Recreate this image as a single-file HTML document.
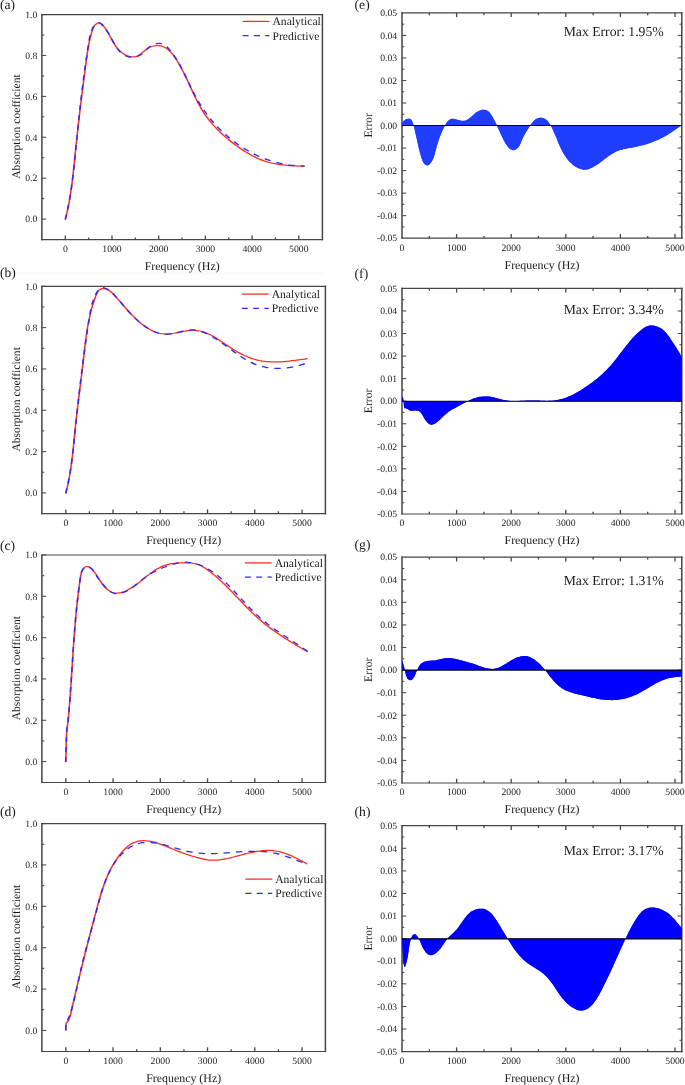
<!DOCTYPE html>
<html><head><meta charset="utf-8"><title>Figure</title>
<style>
html,body{margin:0;padding:0;background:#fff;}
body{width:685px;height:1085px;overflow:hidden;}
svg{display:block;font-family:"Liberation Serif",serif;fill:#1a1a1a;text-rendering:geometricPrecision;will-change:transform;}
</style></head><body>
<svg width="685" height="1085" viewBox="0 0 685 1085">

<g><line x1="0" y1="273.2" x2="323" y2="273.2" stroke="#f3f3f3" stroke-width="1"/>
<g transform="scale(1.25 1)">
<path d="M52.24 219.50C52.34 219.01 52.65 217.54 52.85 216.56C53.04 215.58 53.23 214.60 53.42 213.62C53.60 212.63 53.78 211.65 53.95 210.67C54.13 209.68 54.29 208.69 54.46 207.71C54.62 206.72 54.78 205.73 54.93 204.75C55.08 203.76 55.23 202.77 55.37 201.78C55.52 200.79 55.66 199.80 55.79 198.81C55.93 197.81 56.06 196.82 56.18 195.83C56.31 194.84 56.44 193.84 56.56 192.85C56.68 191.85 56.79 190.86 56.90 189.86C57.02 188.87 57.13 187.87 57.24 186.87C57.34 185.88 57.45 184.88 57.55 183.88C57.65 182.89 57.75 181.89 57.85 180.89C57.94 179.89 58.04 178.89 58.13 177.89C58.22 176.89 58.31 175.89 58.40 174.89C58.49 173.89 58.58 172.89 58.67 171.89C58.75 170.89 58.84 169.89 58.92 168.88C59.01 167.88 59.09 166.88 59.17 165.88C59.26 164.88 59.34 163.88 59.42 162.87C59.50 161.87 59.58 160.87 59.66 159.87C59.74 158.86 59.83 157.86 59.91 156.86C59.99 155.85 60.07 154.85 60.15 153.85C60.23 152.85 60.32 151.84 60.40 150.84C60.48 149.84 60.57 148.84 60.65 147.83C60.73 146.83 60.82 145.83 60.90 144.82C60.99 143.82 61.07 142.82 61.16 141.82C61.24 140.81 61.33 139.81 61.42 138.81C61.50 137.80 61.59 136.80 61.68 135.80C61.76 134.80 61.85 133.79 61.94 132.79C62.03 131.79 62.12 130.79 62.21 129.78C62.29 128.78 62.38 127.78 62.47 126.78C62.56 125.77 62.65 124.77 62.74 123.77C62.84 122.77 62.93 121.77 63.02 120.76C63.11 119.76 63.20 118.76 63.29 117.76C63.39 116.76 63.48 115.76 63.57 114.75C63.66 113.75 63.76 112.75 63.85 111.75C63.95 110.75 64.04 109.75 64.14 108.75C64.23 107.74 64.33 106.74 64.42 105.74C64.52 104.74 64.61 103.74 64.71 102.74C64.81 101.74 64.90 100.74 65.00 99.74C65.10 98.74 65.20 97.74 65.29 96.74C65.39 95.74 65.49 94.74 65.59 93.74C65.69 92.74 65.79 91.74 65.89 90.74C65.99 89.74 66.09 88.74 66.19 87.75C66.29 86.75 66.39 85.75 66.49 84.75C66.60 83.75 66.70 82.75 66.80 81.76C66.90 80.76 67.01 79.76 67.11 78.76C67.21 77.77 67.32 76.77 67.42 75.77C67.53 74.77 67.63 73.78 67.74 72.78C67.84 71.78 67.95 70.79 68.05 69.79C68.16 68.80 68.27 67.80 68.37 66.81C68.48 65.81 68.59 64.82 68.69 63.82C68.80 62.83 68.91 61.83 69.02 60.84C69.13 59.84 69.24 58.85 69.35 57.85C69.46 56.86 69.57 55.87 69.68 54.87C69.79 53.88 69.91 52.89 70.03 51.90C70.15 50.90 70.27 49.91 70.40 48.92C70.53 47.92 70.67 46.93 70.81 45.94C70.95 44.95 71.10 43.95 71.26 42.96C71.42 41.97 71.59 40.97 71.76 39.98C71.94 38.99 72.13 38.00 72.33 37.00C72.53 36.01 72.74 35.01 72.96 34.02C73.19 33.03 73.42 32.02 73.68 31.04C73.95 30.06 74.20 29.05 74.55 28.13C74.90 27.21 75.27 26.30 75.76 25.53C76.26 24.76 76.86 23.92 77.50 23.51C78.14 23.09 78.92 22.87 79.60 23.05C80.29 23.22 81.00 23.91 81.61 24.54C82.23 25.17 82.77 26.05 83.29 26.85C83.82 27.65 84.30 28.49 84.76 29.33C85.23 30.18 85.66 31.04 86.08 31.92C86.50 32.79 86.89 33.68 87.29 34.57C87.68 35.46 88.06 36.36 88.44 37.25C88.82 38.14 89.19 39.04 89.58 39.92C89.96 40.81 90.34 41.69 90.75 42.55C91.15 43.42 91.56 44.27 92.00 45.10C92.44 45.93 92.89 46.75 93.38 47.54C93.87 48.33 94.39 49.09 94.94 49.82C95.50 50.55 96.09 51.26 96.72 51.92C97.35 52.58 98.04 53.21 98.74 53.78C99.44 54.34 100.18 54.86 100.93 55.30C101.68 55.74 102.46 56.12 103.23 56.39C104.00 56.66 104.78 56.87 105.55 56.95C106.32 57.03 107.09 57.02 107.82 56.87C108.56 56.73 109.28 56.46 109.98 56.07C110.67 55.69 111.33 55.14 111.99 54.57C112.65 54.00 113.28 53.30 113.93 52.63C114.58 51.96 115.23 51.22 115.90 50.54C116.57 49.86 117.25 49.16 117.97 48.58C118.69 47.99 119.45 47.45 120.23 47.02C121.01 46.60 121.84 46.26 122.65 46.02C123.47 45.78 124.31 45.63 125.12 45.57C125.92 45.50 126.72 45.54 127.48 45.65C128.24 45.77 128.97 45.97 129.67 46.25C130.38 46.52 131.05 46.88 131.71 47.30C132.36 47.72 132.99 48.21 133.60 48.75C134.21 49.29 134.80 49.90 135.36 50.54C135.93 51.19 136.48 51.89 137.01 52.62C137.54 53.36 138.05 54.14 138.55 54.94C139.04 55.74 139.52 56.58 139.99 57.43C140.46 58.28 140.91 59.16 141.35 60.04C141.80 60.92 142.23 61.82 142.65 62.72C143.07 63.61 143.48 64.52 143.89 65.42C144.29 66.33 144.69 67.24 145.08 68.15C145.47 69.06 145.85 69.97 146.22 70.89C146.60 71.80 146.97 72.72 147.33 73.64C147.69 74.56 148.05 75.48 148.40 76.40C148.76 77.33 149.11 78.25 149.45 79.17C149.80 80.09 150.14 81.02 150.49 81.94C150.83 82.86 151.17 83.79 151.50 84.71C151.84 85.63 152.18 86.55 152.52 87.47C152.85 88.39 153.19 89.30 153.53 90.22C153.87 91.13 154.21 92.05 154.55 92.96C154.89 93.87 155.23 94.77 155.58 95.68C155.93 96.58 156.27 97.48 156.63 98.38C156.98 99.28 157.34 100.17 157.70 101.06C158.07 101.94 158.44 102.83 158.81 103.71C159.19 104.58 159.57 105.46 159.95 106.32C160.34 107.19 160.74 108.05 161.14 108.91C161.55 109.76 161.96 110.61 162.38 111.45C162.80 112.29 163.23 113.13 163.68 113.95C164.12 114.78 164.57 115.60 165.03 116.41C165.50 117.22 165.97 118.02 166.46 118.82C166.94 119.61 167.44 120.40 167.94 121.18C168.45 121.95 168.96 122.72 169.49 123.49C170.01 124.25 170.54 125.01 171.09 125.75C171.63 126.50 172.18 127.24 172.74 127.97C173.29 128.70 173.86 129.42 174.43 130.14C175.01 130.86 175.59 131.56 176.18 132.26C176.77 132.96 177.36 133.66 177.96 134.34C178.56 135.02 179.17 135.70 179.78 136.37C180.40 137.04 181.02 137.70 181.64 138.36C182.27 139.01 182.90 139.65 183.53 140.29C184.16 140.93 184.80 141.56 185.45 142.19C186.09 142.81 186.74 143.42 187.39 144.03C188.04 144.64 188.69 145.24 189.35 145.83C190.00 146.43 190.66 147.01 191.33 147.59C191.99 148.17 192.65 148.74 193.32 149.30C193.99 149.86 194.66 150.41 195.34 150.95C196.01 151.50 196.69 152.03 197.37 152.55C198.05 153.07 198.74 153.58 199.43 154.07C200.12 154.57 200.82 155.05 201.52 155.52C202.22 155.99 202.92 156.45 203.63 156.89C204.35 157.33 205.06 157.76 205.78 158.17C206.51 158.58 207.24 158.97 207.97 159.35C208.71 159.72 209.45 160.08 210.19 160.42C210.94 160.77 211.70 161.09 212.46 161.39C213.22 161.70 213.99 161.98 214.77 162.24C215.54 162.51 216.33 162.75 217.12 162.98C217.90 163.21 218.70 163.42 219.50 163.62C220.30 163.81 221.10 163.99 221.91 164.15C222.71 164.32 223.52 164.47 224.33 164.61C225.15 164.75 225.96 164.87 226.78 164.98C227.59 165.10 228.41 165.20 229.23 165.29C230.04 165.38 230.86 165.46 231.67 165.54C232.49 165.61 233.30 165.68 234.11 165.74C234.93 165.79 235.74 165.84 236.54 165.89C237.35 165.94 238.15 165.98 238.95 166.01C239.75 166.05 240.54 166.08 241.33 166.11C242.12 166.15 243.29 166.19 243.68 166.20" fill="none" stroke="#ff2d2d" stroke-width="1.25" stroke-linejoin="round"/>
<path d="M52.24 219.50C52.34 219.01 52.63 217.53 52.82 216.55C53.00 215.57 53.18 214.58 53.36 213.59C53.54 212.61 53.71 211.62 53.88 210.63C54.05 209.64 54.22 208.65 54.38 207.66C54.54 206.67 54.70 205.68 54.85 204.69C55.01 203.70 55.15 202.70 55.30 201.71C55.45 200.71 55.59 199.72 55.73 198.72C55.87 197.73 56.00 196.73 56.13 195.73C56.27 194.74 56.40 193.74 56.52 192.74C56.65 191.74 56.77 190.74 56.89 189.74C57.01 188.74 57.13 187.74 57.24 186.74C57.36 185.74 57.47 184.73 57.58 183.73C57.69 182.73 57.79 181.73 57.90 180.72C58.00 179.72 58.11 178.71 58.21 177.71C58.31 176.70 58.40 175.70 58.50 174.69C58.60 173.69 58.69 172.68 58.78 171.68C58.88 170.67 58.97 169.66 59.06 168.66C59.15 167.65 59.24 166.64 59.32 165.64C59.41 164.63 59.49 163.62 59.58 162.61C59.66 161.61 59.75 160.60 59.83 159.59C59.91 158.58 59.99 157.57 60.07 156.57C60.15 155.56 60.23 154.55 60.31 153.54C60.39 152.53 60.47 151.53 60.55 150.52C60.63 149.51 60.71 148.50 60.79 147.49C60.87 146.49 60.94 145.48 61.02 144.47C61.10 143.46 61.18 142.45 61.26 141.45C61.34 140.44 61.41 139.43 61.49 138.43C61.57 137.42 61.65 136.41 61.73 135.41C61.81 134.40 61.89 133.39 61.97 132.39C62.05 131.38 62.14 130.38 62.22 129.37C62.30 128.36 62.38 127.36 62.47 126.35C62.55 125.35 62.63 124.34 62.72 123.34C62.80 122.33 62.88 121.33 62.97 120.33C63.06 119.32 63.14 118.32 63.23 117.31C63.31 116.31 63.40 115.30 63.49 114.30C63.58 113.30 63.66 112.29 63.75 111.29C63.84 110.28 63.93 109.28 64.02 108.28C64.11 107.27 64.20 106.27 64.29 105.27C64.38 104.26 64.47 103.26 64.57 102.26C64.66 101.25 64.75 100.25 64.85 99.25C64.94 98.24 65.03 97.24 65.13 96.24C65.23 95.23 65.32 94.23 65.42 93.23C65.51 92.23 65.61 91.22 65.71 90.22C65.81 89.22 65.91 88.21 66.01 87.21C66.11 86.21 66.21 85.20 66.31 84.20C66.41 83.20 66.51 82.19 66.62 81.19C66.72 80.19 66.82 79.18 66.93 78.18C67.03 77.18 67.14 76.17 67.24 75.17C67.35 74.16 67.46 73.16 67.57 72.16C67.67 71.15 67.78 70.15 67.89 69.14C68.00 68.14 68.11 67.14 68.22 66.13C68.34 65.13 68.45 64.12 68.56 63.12C68.68 62.11 68.79 61.11 68.91 60.10C69.02 59.10 69.14 58.09 69.26 57.08C69.37 56.08 69.49 55.07 69.61 54.07C69.73 53.06 69.85 52.05 69.97 51.05C70.09 50.04 70.22 49.04 70.34 48.03C70.46 47.02 70.59 46.01 70.71 45.01C70.84 44.00 70.96 42.99 71.09 41.98C71.22 40.97 71.34 39.96 71.48 38.96C71.63 37.96 71.76 36.95 71.94 35.97C72.11 34.98 72.30 34.00 72.53 33.04C72.76 32.08 73.02 31.14 73.33 30.22C73.65 29.31 74.00 28.41 74.42 27.55C74.85 26.69 75.32 25.83 75.87 25.07C76.42 24.31 77.08 23.37 77.73 22.98C78.38 22.60 79.10 22.48 79.76 22.77C80.43 23.07 81.11 23.99 81.72 24.75C82.33 25.51 82.91 26.51 83.44 27.33C83.97 28.16 84.43 28.93 84.88 29.71C85.33 30.49 85.74 31.23 86.14 32.01C86.55 32.79 86.92 33.56 87.31 34.39C87.70 35.22 88.09 36.10 88.48 36.99C88.88 37.88 89.27 38.81 89.68 39.74C90.09 40.67 90.50 41.62 90.93 42.56C91.36 43.50 91.80 44.45 92.26 45.37C92.72 46.28 93.19 47.20 93.68 48.06C94.17 48.93 94.68 49.78 95.22 50.56C95.76 51.35 96.31 52.10 96.90 52.78C97.49 53.45 98.10 54.08 98.74 54.61C99.39 55.15 100.06 55.62 100.77 55.99C101.47 56.35 102.22 56.63 102.98 56.82C103.73 57.01 104.52 57.11 105.31 57.13C106.09 57.14 106.89 57.07 107.67 56.92C108.46 56.76 109.24 56.53 110.00 56.21C110.75 55.89 111.50 55.50 112.19 55.02C112.89 54.55 113.56 53.99 114.18 53.38C114.81 52.76 115.36 52.04 115.94 51.33C116.51 50.63 117.04 49.84 117.62 49.12C118.21 48.40 118.78 47.64 119.44 46.99C120.10 46.34 120.82 45.71 121.59 45.20C122.35 44.69 123.19 44.24 124.02 43.92C124.84 43.61 125.71 43.38 126.53 43.31C127.34 43.24 128.16 43.29 128.91 43.49C129.66 43.69 130.37 44.05 131.04 44.50C131.71 44.94 132.33 45.53 132.93 46.16C133.54 46.79 134.10 47.52 134.65 48.26C135.20 49.00 135.72 49.81 136.24 50.60C136.75 51.40 137.25 52.21 137.74 53.02C138.23 53.84 138.70 54.66 139.16 55.50C139.63 56.33 140.08 57.17 140.52 58.02C140.96 58.86 141.39 59.72 141.81 60.58C142.23 61.44 142.64 62.31 143.04 63.19C143.45 64.06 143.84 64.94 144.23 65.83C144.62 66.71 145.00 67.60 145.37 68.50C145.75 69.39 146.12 70.29 146.49 71.19C146.85 72.09 147.21 73.00 147.57 73.90C147.93 74.81 148.28 75.72 148.63 76.63C148.98 77.54 149.33 78.45 149.68 79.37C150.03 80.28 150.38 81.20 150.72 82.11C151.07 83.03 151.42 83.94 151.77 84.85C152.12 85.77 152.47 86.68 152.82 87.59C153.18 88.50 153.53 89.41 153.89 90.32C154.25 91.23 154.61 92.13 154.98 93.04C155.35 93.94 155.72 94.84 156.10 95.73C156.48 96.62 156.87 97.52 157.26 98.40C157.65 99.29 158.05 100.17 158.46 101.04C158.87 101.92 159.28 102.79 159.71 103.65C160.13 104.52 160.56 105.37 161.00 106.23C161.44 107.08 161.88 107.93 162.34 108.77C162.79 109.61 163.25 110.44 163.72 111.27C164.19 112.10 164.66 112.92 165.15 113.74C165.63 114.55 166.12 115.36 166.62 116.17C167.11 116.97 167.62 117.76 168.13 118.55C168.64 119.34 169.16 120.12 169.68 120.90C170.21 121.67 170.74 122.44 171.28 123.20C171.81 123.96 172.36 124.71 172.91 125.45C173.46 126.20 174.02 126.94 174.58 127.67C175.15 128.39 175.72 129.12 176.29 129.83C176.87 130.54 177.45 131.25 178.04 131.94C178.63 132.64 179.22 133.33 179.82 134.01C180.43 134.69 181.03 135.36 181.64 136.02C182.26 136.68 182.88 137.34 183.50 137.98C184.12 138.63 184.75 139.26 185.39 139.89C186.02 140.51 186.66 141.13 187.31 141.74C187.95 142.35 188.61 142.94 189.26 143.53C189.92 144.12 190.58 144.70 191.25 145.27C191.91 145.84 192.59 146.40 193.26 146.94C193.94 147.49 194.62 148.03 195.31 148.56C195.99 149.09 196.69 149.61 197.38 150.11C198.08 150.62 198.78 151.12 199.48 151.60C200.19 152.09 200.90 152.56 201.61 153.03C202.33 153.49 203.05 153.94 203.77 154.38C204.49 154.83 205.22 155.26 205.95 155.67C206.68 156.09 207.42 156.50 208.16 156.90C208.90 157.29 209.64 157.67 210.39 158.05C211.14 158.42 211.89 158.78 212.64 159.13C213.40 159.47 214.16 159.81 214.92 160.13C215.68 160.45 216.45 160.76 217.22 161.06C217.99 161.36 218.76 161.65 219.54 161.92C220.31 162.19 221.09 162.45 221.88 162.70C222.66 162.94 223.44 163.18 224.23 163.40C225.02 163.61 225.81 163.82 226.61 164.01C227.40 164.21 228.20 164.39 229.00 164.55C229.80 164.72 230.61 164.87 231.41 165.01C232.22 165.15 233.03 165.27 233.84 165.38C234.65 165.49 235.46 165.59 236.28 165.67C237.09 165.75 237.91 165.81 238.73 165.87C239.55 165.92 240.38 165.96 241.20 165.98C242.02 166.00 243.27 166.00 243.68 166.00" fill="none" stroke="#2b2bff" stroke-width="1.25" stroke-dasharray="5.2 4.8" stroke-linejoin="round"/>
</g>
<path d="M41.90 14.00V240.30M322.40 14.00V240.30" fill="none" stroke="#464646" stroke-width="1.5"/>
<path d="M41.15 14.60H323.15M41.15 239.70H323.15" fill="none" stroke="#464646" stroke-width="1.2"/>
<line x1="65.30" y1="239.70" x2="65.30" y2="235.50" stroke="#464646" stroke-width="1.3"/>
<text x="65.30" y="252.00" font-size="9.7" text-anchor="middle" >0</text>
<line x1="88.65" y1="239.70" x2="88.65" y2="237.40" stroke="#464646" stroke-width="1.3"/>
<line x1="112.00" y1="239.70" x2="112.00" y2="235.50" stroke="#464646" stroke-width="1.3"/>
<text x="112.00" y="252.00" font-size="9.7" text-anchor="middle" >1000</text>
<line x1="135.35" y1="239.70" x2="135.35" y2="237.40" stroke="#464646" stroke-width="1.3"/>
<line x1="158.70" y1="239.70" x2="158.70" y2="235.50" stroke="#464646" stroke-width="1.3"/>
<text x="158.70" y="252.00" font-size="9.7" text-anchor="middle" >2000</text>
<line x1="182.05" y1="239.70" x2="182.05" y2="237.40" stroke="#464646" stroke-width="1.3"/>
<line x1="205.40" y1="239.70" x2="205.40" y2="235.50" stroke="#464646" stroke-width="1.3"/>
<text x="205.40" y="252.00" font-size="9.7" text-anchor="middle" >3000</text>
<line x1="228.75" y1="239.70" x2="228.75" y2="237.40" stroke="#464646" stroke-width="1.3"/>
<line x1="252.10" y1="239.70" x2="252.10" y2="235.50" stroke="#464646" stroke-width="1.3"/>
<text x="252.10" y="252.00" font-size="9.7" text-anchor="middle" >4000</text>
<line x1="275.45" y1="239.70" x2="275.45" y2="237.40" stroke="#464646" stroke-width="1.3"/>
<line x1="298.80" y1="239.70" x2="298.80" y2="235.50" stroke="#464646" stroke-width="1.3"/>
<text x="298.80" y="252.00" font-size="9.7" text-anchor="middle" >5000</text>
<line x1="41.90" y1="219.10" x2="46.10" y2="219.10" stroke="#464646" stroke-width="1.05"/>
<text x="37.30" y="222.35" font-size="9.7" text-anchor="end" >0.0</text>
<line x1="41.90" y1="198.65" x2="44.20" y2="198.65" stroke="#464646" stroke-width="1.05"/>
<line x1="41.90" y1="178.20" x2="46.10" y2="178.20" stroke="#464646" stroke-width="1.05"/>
<text x="37.30" y="181.45" font-size="9.7" text-anchor="end" >0.2</text>
<line x1="41.90" y1="157.75" x2="44.20" y2="157.75" stroke="#464646" stroke-width="1.05"/>
<line x1="41.90" y1="137.30" x2="46.10" y2="137.30" stroke="#464646" stroke-width="1.05"/>
<text x="37.30" y="140.55" font-size="9.7" text-anchor="end" >0.4</text>
<line x1="41.90" y1="116.85" x2="44.20" y2="116.85" stroke="#464646" stroke-width="1.05"/>
<line x1="41.90" y1="96.40" x2="46.10" y2="96.40" stroke="#464646" stroke-width="1.05"/>
<text x="37.30" y="99.65" font-size="9.7" text-anchor="end" >0.6</text>
<line x1="41.90" y1="75.95" x2="44.20" y2="75.95" stroke="#464646" stroke-width="1.05"/>
<line x1="41.90" y1="55.50" x2="46.10" y2="55.50" stroke="#464646" stroke-width="1.05"/>
<text x="37.30" y="58.75" font-size="9.7" text-anchor="end" >0.8</text>
<line x1="41.90" y1="35.05" x2="44.20" y2="35.05" stroke="#464646" stroke-width="1.05"/>
<line x1="41.90" y1="14.60" x2="46.10" y2="14.60" stroke="#464646" stroke-width="1.05"/>
<text x="37.30" y="17.85" font-size="9.7" text-anchor="end" >1.0</text>
<text x="182.15" y="270.00" font-size="11.9" text-anchor="middle" >Frequency (Hz)</text>
<text transform="translate(20.40 126.55) rotate(-90)" font-size="11.6" text-anchor="middle">Absorption coefficient</text>
<text x="0.00" y="8.90" font-size="13.6" text-anchor="start" >(a)</text>
<line x1="242.60" y1="21.40" x2="269.40" y2="21.40" stroke="#ff2d2d" stroke-width="1.3"/>
<line x1="242.60" y1="35.70" x2="269.40" y2="35.70" stroke="#2b2bff" stroke-width="1.3" stroke-dasharray="6 5.3"/>
<text x="272.50" y="25.30" font-size="11.6" text-anchor="start" >Analytical</text>
<text x="272.50" y="39.60" font-size="11.6" text-anchor="start" >Predictive</text>
<g transform="scale(1.25 1)">
<path d="M52.56 493.40C52.66 492.91 52.98 491.43 53.18 490.44C53.39 489.46 53.58 488.47 53.77 487.48C53.95 486.49 54.13 485.50 54.31 484.51C54.48 483.52 54.65 482.53 54.81 481.53C54.97 480.54 55.13 479.54 55.28 478.55C55.43 477.55 55.57 476.56 55.71 475.56C55.85 474.56 55.99 473.57 56.11 472.57C56.24 471.57 56.37 470.57 56.49 469.57C56.61 468.57 56.73 467.57 56.84 466.57C56.95 465.56 57.06 464.56 57.17 463.56C57.27 462.55 57.38 461.55 57.48 460.55C57.57 459.54 57.67 458.54 57.77 457.53C57.86 456.53 57.95 455.52 58.04 454.52C58.13 453.51 58.22 452.50 58.30 451.50C58.39 450.49 58.47 449.48 58.56 448.48C58.64 447.47 58.72 446.46 58.80 445.45C58.88 444.45 58.96 443.44 59.04 442.43C59.12 441.42 59.20 440.41 59.28 439.40C59.36 438.40 59.44 437.39 59.52 436.38C59.60 435.37 59.68 434.36 59.76 433.35C59.85 432.35 59.93 431.34 60.01 430.33C60.10 429.32 60.18 428.31 60.27 427.31C60.36 426.30 60.44 425.29 60.53 424.28C60.62 423.27 60.71 422.27 60.80 421.26C60.89 420.25 60.98 419.24 61.07 418.24C61.16 417.23 61.26 416.22 61.35 415.21C61.44 414.21 61.54 413.20 61.63 412.19C61.73 411.19 61.82 410.18 61.92 409.17C62.01 408.16 62.11 407.16 62.21 406.15C62.30 405.14 62.40 404.14 62.50 403.13C62.60 402.12 62.70 401.12 62.79 400.11C62.89 399.10 62.99 398.10 63.09 397.09C63.19 396.09 63.29 395.08 63.39 394.07C63.49 393.07 63.59 392.06 63.69 391.05C63.79 390.05 63.88 389.04 63.98 388.04C64.08 387.03 64.18 386.02 64.28 385.02C64.38 384.01 64.48 383.01 64.58 382.00C64.68 380.99 64.78 379.99 64.88 378.98C64.97 377.98 65.07 376.97 65.17 375.96C65.27 374.96 65.37 373.95 65.46 372.95C65.56 371.94 65.66 370.94 65.75 369.93C65.85 368.92 65.94 367.92 66.04 366.91C66.13 365.91 66.23 364.90 66.32 363.90C66.42 362.89 66.51 361.88 66.60 360.88C66.69 359.87 66.78 358.87 66.87 357.86C66.97 356.86 67.06 355.85 67.15 354.84C67.24 353.84 67.33 352.83 67.42 351.83C67.51 350.82 67.60 349.82 67.69 348.81C67.79 347.81 67.88 346.81 67.98 345.80C68.07 344.80 68.17 343.79 68.27 342.79C68.37 341.79 68.47 340.78 68.58 339.78C68.68 338.78 68.79 337.77 68.90 336.77C69.01 335.77 69.12 334.77 69.24 333.77C69.36 332.77 69.48 331.77 69.61 330.77C69.73 329.77 69.86 328.77 70.00 327.77C70.13 326.77 70.27 325.77 70.42 324.78C70.56 323.78 70.71 322.78 70.87 321.79C71.03 320.79 71.19 319.80 71.36 318.80C71.53 317.81 71.70 316.82 71.88 315.83C72.07 314.83 72.25 313.84 72.45 312.85C72.65 311.86 72.85 310.87 73.06 309.88C73.28 308.90 73.50 307.91 73.73 306.92C73.96 305.94 74.19 304.95 74.44 303.97C74.69 302.98 74.94 302.00 75.21 301.02C75.47 300.04 75.75 299.06 76.03 298.08C76.32 297.10 76.60 296.10 76.92 295.15C77.24 294.21 77.56 293.25 77.95 292.42C78.34 291.60 78.75 290.81 79.25 290.21C79.75 289.61 80.30 289.10 80.95 288.82C81.60 288.55 82.39 288.48 83.17 288.58C83.95 288.68 84.85 289.02 85.63 289.42C86.41 289.82 87.15 290.40 87.84 291.00C88.52 291.60 89.13 292.32 89.74 293.03C90.34 293.74 90.91 294.52 91.48 295.27C92.05 296.02 92.62 296.79 93.17 297.55C93.73 298.31 94.28 299.08 94.83 299.85C95.38 300.62 95.92 301.39 96.46 302.16C97.00 302.93 97.54 303.70 98.07 304.47C98.61 305.23 99.14 306.00 99.68 306.77C100.21 307.53 100.74 308.30 101.28 309.05C101.82 309.81 102.35 310.57 102.89 311.32C103.44 312.06 103.98 312.81 104.53 313.55C105.08 314.28 105.63 315.01 106.19 315.73C106.75 316.45 107.31 317.17 107.88 317.87C108.46 318.57 109.04 319.27 109.63 319.95C110.22 320.63 110.81 321.31 111.42 321.96C112.03 322.62 112.65 323.27 113.29 323.90C113.92 324.53 114.56 325.15 115.22 325.75C115.88 326.35 116.55 326.94 117.23 327.50C117.91 328.06 118.61 328.60 119.31 329.10C120.01 329.61 120.73 330.09 121.45 330.54C122.18 330.98 122.91 331.40 123.66 331.77C124.40 332.14 125.16 332.48 125.92 332.77C126.68 333.05 127.45 333.30 128.23 333.50C129.01 333.69 129.80 333.84 130.59 333.93C131.39 334.02 132.19 334.05 133.00 334.05C133.81 334.04 134.62 333.98 135.44 333.89C136.26 333.80 137.08 333.67 137.91 333.52C138.73 333.37 139.56 333.19 140.39 333.01C141.22 332.82 142.05 332.61 142.88 332.41C143.71 332.20 144.54 331.98 145.36 331.78C146.19 331.58 147.02 331.38 147.84 331.20C148.66 331.02 149.48 330.85 150.30 330.72C151.11 330.59 151.92 330.47 152.72 330.40C153.52 330.34 154.32 330.30 155.11 330.32C155.90 330.34 156.68 330.40 157.45 330.51C158.22 330.62 158.99 330.78 159.74 330.98C160.50 331.17 161.25 331.42 162.00 331.69C162.74 331.97 163.48 332.28 164.22 332.63C164.95 332.97 165.68 333.35 166.40 333.76C167.13 334.16 167.84 334.60 168.56 335.05C169.27 335.51 169.99 336.00 170.69 336.50C171.40 337.00 172.11 337.52 172.81 338.06C173.51 338.59 174.21 339.15 174.91 339.71C175.61 340.27 176.31 340.84 177.00 341.42C177.70 342.00 178.39 342.59 179.09 343.18C179.78 343.76 180.47 344.36 181.17 344.94C181.87 345.53 182.56 346.12 183.26 346.70C183.95 347.28 184.65 347.85 185.35 348.41C186.05 348.97 186.75 349.53 187.46 350.06C188.16 350.60 188.87 351.13 189.58 351.64C190.29 352.15 191.00 352.65 191.71 353.13C192.43 353.61 193.15 354.08 193.87 354.53C194.59 354.97 195.32 355.41 196.05 355.82C196.78 356.24 197.51 356.63 198.25 357.01C198.99 357.39 199.73 357.74 200.47 358.08C201.22 358.42 201.97 358.73 202.73 359.03C203.49 359.32 204.25 359.59 205.02 359.84C205.79 360.09 206.56 360.31 207.34 360.51C208.12 360.71 208.90 360.89 209.69 361.04C210.48 361.20 211.28 361.33 212.08 361.44C212.87 361.55 213.68 361.64 214.48 361.72C215.29 361.79 216.10 361.84 216.91 361.88C217.72 361.92 218.54 361.93 219.36 361.94C220.17 361.94 220.99 361.93 221.81 361.90C222.63 361.88 223.46 361.84 224.28 361.78C225.10 361.73 225.92 361.67 226.75 361.59C227.57 361.52 228.39 361.43 229.21 361.34C230.03 361.24 230.85 361.14 231.67 361.03C232.49 360.92 233.31 360.80 234.12 360.68C234.94 360.55 235.75 360.42 236.56 360.29C237.37 360.16 238.18 360.02 238.98 359.88C239.78 359.74 240.58 359.60 241.37 359.45C242.17 359.31 242.96 359.17 243.74 359.02C244.53 358.88 245.69 358.67 246.08 358.60" fill="none" stroke="#ff2d2d" stroke-width="1.25" stroke-linejoin="round"/>
<path d="M52.56 493.40C52.66 492.91 52.96 491.44 53.15 490.45C53.35 489.47 53.53 488.48 53.71 487.50C53.89 486.51 54.07 485.53 54.24 484.54C54.41 483.55 54.57 482.56 54.73 481.57C54.89 480.58 55.05 479.59 55.20 478.60C55.35 477.60 55.49 476.61 55.63 475.62C55.77 474.62 55.91 473.63 56.04 472.63C56.17 471.63 56.30 470.64 56.43 469.64C56.55 468.64 56.67 467.64 56.79 466.65C56.91 465.65 57.02 464.65 57.13 463.65C57.24 462.65 57.35 461.65 57.46 460.64C57.56 459.64 57.67 458.64 57.77 457.64C57.87 456.64 57.96 455.63 58.06 454.63C58.16 453.63 58.25 452.62 58.34 451.62C58.43 450.62 58.52 449.61 58.61 448.61C58.70 447.60 58.79 446.60 58.87 445.59C58.96 444.59 59.05 443.58 59.13 442.58C59.21 441.57 59.30 440.57 59.38 439.56C59.46 438.56 59.54 437.55 59.63 436.54C59.71 435.54 59.79 434.53 59.87 433.53C59.96 432.52 60.04 431.52 60.12 430.51C60.20 429.51 60.29 428.50 60.37 427.50C60.45 426.49 60.54 425.49 60.62 424.48C60.70 423.48 60.79 422.47 60.87 421.47C60.96 420.47 61.04 419.46 61.13 418.46C61.21 417.45 61.30 416.45 61.39 415.44C61.47 414.44 61.56 413.44 61.65 412.43C61.73 411.43 61.82 410.43 61.91 409.42C62.00 408.42 62.08 407.41 62.17 406.41C62.26 405.41 62.35 404.40 62.44 403.40C62.53 402.40 62.62 401.39 62.71 400.39C62.80 399.39 62.89 398.38 62.98 397.38C63.07 396.38 63.16 395.37 63.25 394.37C63.35 393.37 63.44 392.36 63.53 391.36C63.63 390.36 63.72 389.35 63.81 388.35C63.91 387.35 64.00 386.35 64.10 385.34C64.19 384.34 64.29 383.34 64.38 382.33C64.48 381.33 64.57 380.33 64.67 379.32C64.77 378.32 64.87 377.32 64.96 376.31C65.06 375.31 65.16 374.31 65.26 373.31C65.36 372.30 65.46 371.30 65.56 370.30C65.66 369.29 65.76 368.29 65.86 367.29C65.96 366.28 66.06 365.28 66.17 364.28C66.27 363.27 66.37 362.27 66.47 361.27C66.58 360.26 66.68 359.26 66.79 358.26C66.89 357.25 67.00 356.25 67.10 355.24C67.21 354.24 67.32 353.24 67.42 352.23C67.53 351.23 67.64 350.23 67.75 349.23C67.86 348.22 67.97 347.22 68.08 346.22C68.19 345.22 68.30 344.21 68.41 343.21C68.52 342.21 68.63 341.21 68.75 340.21C68.86 339.21 68.98 338.21 69.09 337.21C69.21 336.21 69.32 335.21 69.44 334.21C69.56 333.21 69.68 332.21 69.79 331.22C69.91 330.22 70.03 329.22 70.16 328.23C70.28 327.23 70.40 326.24 70.52 325.25C70.65 324.25 70.77 323.26 70.90 322.27C71.02 321.27 71.15 320.28 71.28 319.29C71.40 318.30 71.53 317.32 71.66 316.33C71.79 315.34 71.92 314.35 72.06 313.37C72.20 312.38 72.35 311.40 72.50 310.41C72.66 309.43 72.82 308.44 73.00 307.45C73.19 306.47 73.38 305.48 73.59 304.49C73.80 303.51 74.03 302.52 74.29 301.53C74.54 300.54 74.81 299.54 75.12 298.55C75.42 297.56 75.75 296.54 76.11 295.56C76.47 294.58 76.85 293.57 77.28 292.67C77.71 291.78 78.16 290.90 78.66 290.19C79.16 289.48 79.69 288.84 80.28 288.43C80.86 288.02 81.49 287.76 82.15 287.73C82.82 287.69 83.56 287.94 84.26 288.25C84.97 288.56 85.72 289.07 86.40 289.58C87.09 290.09 87.75 290.69 88.39 291.31C89.02 291.93 89.63 292.62 90.22 293.32C90.82 294.02 91.39 294.77 91.95 295.53C92.51 296.28 93.05 297.08 93.60 297.87C94.14 298.66 94.67 299.47 95.20 300.26C95.73 301.06 96.26 301.86 96.79 302.66C97.32 303.45 97.85 304.24 98.38 305.03C98.91 305.81 99.44 306.59 99.97 307.37C100.51 308.14 101.04 308.91 101.58 309.67C102.12 310.43 102.66 311.19 103.20 311.93C103.75 312.68 104.29 313.42 104.85 314.15C105.40 314.88 105.96 315.60 106.53 316.30C107.09 317.01 107.66 317.71 108.24 318.40C108.82 319.08 109.41 319.76 110.01 320.42C110.60 321.09 111.21 321.74 111.82 322.37C112.43 323.01 113.06 323.63 113.69 324.24C114.33 324.84 114.97 325.44 115.63 326.01C116.29 326.59 116.95 327.15 117.64 327.69C118.32 328.24 119.02 328.77 119.72 329.27C120.43 329.78 121.16 330.27 121.89 330.72C122.62 331.17 123.36 331.60 124.12 331.98C124.87 332.37 125.63 332.72 126.40 333.02C127.17 333.32 127.95 333.57 128.73 333.77C129.51 333.96 130.30 334.10 131.09 334.18C131.88 334.26 132.68 334.27 133.48 334.24C134.28 334.21 135.08 334.11 135.88 333.99C136.69 333.87 137.50 333.70 138.31 333.52C139.12 333.33 139.93 333.11 140.75 332.89C141.56 332.66 142.38 332.41 143.20 332.17C144.02 331.93 144.84 331.67 145.66 331.44C146.48 331.20 147.30 330.97 148.12 330.77C148.94 330.57 149.76 330.38 150.58 330.25C151.39 330.12 152.20 330.01 153.00 329.96C153.81 329.92 154.61 329.92 155.40 329.99C156.19 330.06 156.97 330.20 157.75 330.38C158.52 330.57 159.29 330.82 160.05 331.10C160.81 331.38 161.56 331.71 162.31 332.07C163.05 332.42 163.79 332.82 164.52 333.23C165.25 333.64 165.97 334.08 166.68 334.53C167.40 334.98 168.10 335.45 168.81 335.94C169.51 336.42 170.20 336.93 170.89 337.45C171.59 337.96 172.27 338.50 172.95 339.04C173.63 339.59 174.31 340.14 174.98 340.71C175.66 341.27 176.33 341.85 176.99 342.43C177.66 343.02 178.33 343.61 178.99 344.20C179.65 344.80 180.31 345.40 180.97 346.00C181.63 346.60 182.29 347.21 182.95 347.82C183.60 348.42 184.26 349.03 184.92 349.64C185.58 350.24 186.24 350.85 186.90 351.44C187.56 352.04 188.22 352.64 188.88 353.23C189.55 353.81 190.21 354.40 190.88 354.97C191.55 355.54 192.22 356.11 192.90 356.66C193.58 357.21 194.26 357.76 194.94 358.28C195.62 358.81 196.31 359.33 197.01 359.83C197.70 360.33 198.40 360.81 199.11 361.28C199.81 361.74 200.53 362.19 201.25 362.62C201.96 363.04 202.69 363.45 203.43 363.84C204.16 364.22 204.90 364.58 205.65 364.92C206.40 365.26 207.16 365.57 207.93 365.85C208.70 366.14 209.48 366.40 210.26 366.64C211.04 366.87 211.83 367.08 212.63 367.27C213.43 367.46 214.23 367.62 215.03 367.76C215.84 367.90 216.65 368.01 217.47 368.10C218.28 368.20 219.10 368.26 219.92 368.31C220.74 368.36 221.56 368.38 222.38 368.39C223.20 368.39 224.03 368.37 224.85 368.33C225.67 368.29 226.49 368.23 227.31 368.14C228.14 368.06 228.96 367.96 229.77 367.83C230.59 367.71 231.40 367.57 232.21 367.41C233.02 367.24 233.83 367.06 234.63 366.86C235.43 366.66 236.22 366.44 237.01 366.20C237.80 365.96 238.58 365.71 239.35 365.43C240.13 365.16 240.90 364.86 241.65 364.56C242.41 364.25 243.16 363.92 243.90 363.58C244.63 363.24 245.72 362.68 246.08 362.50" fill="none" stroke="#2b2bff" stroke-width="1.25" stroke-dasharray="5.2 4.8" stroke-linejoin="round"/>
</g>
<path d="M41.90 285.70V514.20M325.40 285.70V514.20" fill="none" stroke="#464646" stroke-width="1.5"/>
<path d="M41.15 286.30H326.15M41.15 513.60H326.15" fill="none" stroke="#464646" stroke-width="1.2"/>
<line x1="65.80" y1="513.60" x2="65.80" y2="509.40" stroke="#464646" stroke-width="1.3"/>
<text x="65.80" y="526.35" font-size="9.7" text-anchor="middle" >0</text>
<line x1="89.42" y1="513.60" x2="89.42" y2="511.30" stroke="#464646" stroke-width="1.3"/>
<line x1="113.05" y1="513.60" x2="113.05" y2="509.40" stroke="#464646" stroke-width="1.3"/>
<text x="113.05" y="526.35" font-size="9.7" text-anchor="middle" >1000</text>
<line x1="136.68" y1="513.60" x2="136.68" y2="511.30" stroke="#464646" stroke-width="1.3"/>
<line x1="160.30" y1="513.60" x2="160.30" y2="509.40" stroke="#464646" stroke-width="1.3"/>
<text x="160.30" y="526.35" font-size="9.7" text-anchor="middle" >2000</text>
<line x1="183.93" y1="513.60" x2="183.93" y2="511.30" stroke="#464646" stroke-width="1.3"/>
<line x1="207.55" y1="513.60" x2="207.55" y2="509.40" stroke="#464646" stroke-width="1.3"/>
<text x="207.55" y="526.35" font-size="9.7" text-anchor="middle" >3000</text>
<line x1="231.18" y1="513.60" x2="231.18" y2="511.30" stroke="#464646" stroke-width="1.3"/>
<line x1="254.80" y1="513.60" x2="254.80" y2="509.40" stroke="#464646" stroke-width="1.3"/>
<text x="254.80" y="526.35" font-size="9.7" text-anchor="middle" >4000</text>
<line x1="278.43" y1="513.60" x2="278.43" y2="511.30" stroke="#464646" stroke-width="1.3"/>
<line x1="302.05" y1="513.60" x2="302.05" y2="509.40" stroke="#464646" stroke-width="1.3"/>
<text x="302.05" y="526.35" font-size="9.7" text-anchor="middle" >5000</text>
<line x1="41.90" y1="492.90" x2="46.10" y2="492.90" stroke="#464646" stroke-width="1.05"/>
<text x="37.30" y="496.15" font-size="9.7" text-anchor="end" >0.0</text>
<line x1="41.90" y1="472.24" x2="44.20" y2="472.24" stroke="#464646" stroke-width="1.05"/>
<line x1="41.90" y1="451.58" x2="46.10" y2="451.58" stroke="#464646" stroke-width="1.05"/>
<text x="37.30" y="454.83" font-size="9.7" text-anchor="end" >0.2</text>
<line x1="41.90" y1="430.92" x2="44.20" y2="430.92" stroke="#464646" stroke-width="1.05"/>
<line x1="41.90" y1="410.26" x2="46.10" y2="410.26" stroke="#464646" stroke-width="1.05"/>
<text x="37.30" y="413.51" font-size="9.7" text-anchor="end" >0.4</text>
<line x1="41.90" y1="389.60" x2="44.20" y2="389.60" stroke="#464646" stroke-width="1.05"/>
<line x1="41.90" y1="368.94" x2="46.10" y2="368.94" stroke="#464646" stroke-width="1.05"/>
<text x="37.30" y="372.19" font-size="9.7" text-anchor="end" >0.6</text>
<line x1="41.90" y1="348.28" x2="44.20" y2="348.28" stroke="#464646" stroke-width="1.05"/>
<line x1="41.90" y1="327.62" x2="46.10" y2="327.62" stroke="#464646" stroke-width="1.05"/>
<text x="37.30" y="330.87" font-size="9.7" text-anchor="end" >0.8</text>
<line x1="41.90" y1="306.96" x2="44.20" y2="306.96" stroke="#464646" stroke-width="1.05"/>
<line x1="41.90" y1="286.30" x2="46.10" y2="286.30" stroke="#464646" stroke-width="1.05"/>
<text x="37.30" y="289.55" font-size="9.7" text-anchor="end" >1.0</text>
<text x="183.65" y="543.90" font-size="11.9" text-anchor="middle" >Frequency (Hz)</text>
<text transform="translate(20.40 399.35) rotate(-90)" font-size="11.6" text-anchor="middle">Absorption coefficient</text>
<text x="0.00" y="277.30" font-size="13.6" text-anchor="start" >(b)</text>
<line x1="241.80" y1="294.10" x2="268.70" y2="294.10" stroke="#ff2d2d" stroke-width="1.3"/>
<line x1="241.80" y1="308.40" x2="268.70" y2="308.40" stroke="#2b2bff" stroke-width="1.3" stroke-dasharray="6 5.3"/>
<text x="271.70" y="298.00" font-size="11.6" text-anchor="start" >Analytical</text>
<text x="271.70" y="312.30" font-size="11.6" text-anchor="start" >Predictive</text>
<g transform="scale(1.25 1)">
<path d="M52.56 762.10C52.61 760.05 52.76 754.65 52.88 749.80C53.00 744.95 53.04 737.52 53.28 733.00C53.52 728.48 54.11 724.92 54.32 722.70C54.53 720.48 54.48 720.67 54.55 719.65C54.63 718.64 54.71 717.62 54.78 716.60C54.85 715.59 54.93 714.58 55.00 713.56C55.07 712.55 55.14 711.53 55.21 710.52C55.28 709.51 55.35 708.49 55.41 707.48C55.48 706.47 55.54 705.45 55.61 704.44C55.67 703.43 55.74 702.42 55.80 701.41C55.86 700.39 55.92 699.38 55.98 698.37C56.05 697.36 56.10 696.35 56.16 695.34C56.22 694.33 56.28 693.32 56.34 692.31C56.40 691.30 56.45 690.29 56.51 689.28C56.57 688.27 56.62 687.26 56.68 686.25C56.73 685.24 56.79 684.23 56.84 683.22C56.90 682.21 56.95 681.20 57.00 680.19C57.06 679.18 57.11 678.18 57.16 677.17C57.21 676.16 57.27 675.15 57.32 674.14C57.37 673.13 57.42 672.13 57.48 671.12C57.53 670.11 57.58 669.10 57.63 668.09C57.68 667.08 57.73 666.08 57.79 665.07C57.84 664.06 57.89 663.05 57.94 662.04C57.99 661.04 58.05 660.03 58.10 659.02C58.15 658.01 58.20 657.00 58.26 656.00C58.31 654.99 58.36 653.98 58.41 652.97C58.47 651.96 58.52 650.96 58.58 649.95C58.63 648.94 58.69 647.93 58.74 646.92C58.80 645.91 58.85 644.90 58.91 643.90C58.96 642.89 59.02 641.88 59.08 640.87C59.14 639.86 59.20 638.85 59.25 637.84C59.31 636.83 59.37 635.82 59.43 634.81C59.50 633.80 59.56 632.79 59.62 631.78C59.68 630.77 59.75 629.76 59.81 628.75C59.88 627.74 59.94 626.73 60.01 625.72C60.08 624.71 60.14 623.70 60.21 622.69C60.28 621.68 60.35 620.66 60.42 619.65C60.50 618.64 60.57 617.63 60.64 616.62C60.72 615.60 60.79 614.59 60.87 613.58C60.95 612.56 61.02 611.55 61.10 610.54C61.18 609.52 61.27 608.51 61.35 607.49C61.43 606.48 61.52 605.46 61.60 604.45C61.69 603.43 61.78 602.41 61.87 601.40C61.96 600.38 62.05 599.37 62.14 598.35C62.24 597.33 62.33 596.31 62.43 595.30C62.53 594.28 62.63 593.26 62.73 592.24C62.83 591.22 62.93 590.20 63.04 589.18C63.14 588.16 63.25 587.14 63.36 586.12C63.47 585.10 63.58 584.08 63.70 583.05C63.81 582.03 63.93 581.01 64.04 579.99C64.16 578.96 64.28 577.93 64.41 576.91C64.54 575.90 64.65 574.86 64.84 573.88C65.03 572.90 65.23 571.92 65.54 571.02C65.86 570.12 66.24 569.21 66.73 568.50C67.22 567.79 67.85 567.03 68.49 566.73C69.12 566.43 69.85 566.45 70.53 566.70C71.21 566.94 71.92 567.63 72.55 568.23C73.18 568.82 73.76 569.54 74.31 570.26C74.85 570.97 75.34 571.74 75.82 572.52C76.30 573.31 76.74 574.13 77.18 574.97C77.62 575.81 78.04 576.67 78.47 577.54C78.91 578.41 79.33 579.30 79.78 580.19C80.24 581.07 80.70 581.97 81.20 582.85C81.70 583.72 82.23 584.61 82.78 585.45C83.34 586.29 83.93 587.13 84.54 587.88C85.16 588.64 85.80 589.37 86.46 590.01C87.12 590.64 87.80 591.22 88.50 591.68C89.21 592.14 89.93 592.52 90.67 592.77C91.41 593.02 92.17 593.14 92.93 593.18C93.69 593.21 94.47 593.13 95.25 592.98C96.02 592.83 96.80 592.58 97.57 592.30C98.33 592.02 99.10 591.66 99.85 591.28C100.60 590.90 101.33 590.47 102.05 590.03C102.77 589.58 103.48 589.09 104.18 588.59C104.87 588.09 105.56 587.55 106.24 587.00C106.91 586.45 107.58 585.87 108.24 585.28C108.90 584.70 109.56 584.09 110.20 583.47C110.85 582.85 111.50 582.22 112.14 581.59C112.78 580.95 113.42 580.30 114.05 579.66C114.69 579.02 115.32 578.37 115.96 577.72C116.60 577.08 117.23 576.43 117.88 575.80C118.52 575.17 119.16 574.54 119.81 573.92C120.46 573.31 121.11 572.70 121.77 572.11C122.43 571.53 123.09 570.96 123.77 570.41C124.45 569.86 125.13 569.33 125.83 568.83C126.52 568.33 127.23 567.86 127.95 567.41C128.67 566.97 129.40 566.56 130.15 566.18C130.89 565.80 131.66 565.46 132.43 565.16C133.21 564.85 134.00 564.58 134.79 564.34C135.59 564.10 136.40 563.89 137.22 563.71C138.03 563.53 138.86 563.39 139.69 563.26C140.51 563.14 141.35 563.04 142.18 562.96C143.01 562.89 143.85 562.84 144.68 562.81C145.51 562.77 146.35 562.76 147.17 562.77C148.00 562.78 148.83 562.80 149.64 562.84C150.46 562.88 151.27 562.92 152.07 563.00C152.87 563.09 153.66 563.18 154.44 563.33C155.22 563.48 155.99 563.65 156.75 563.90C157.51 564.14 158.26 564.44 159.00 564.80C159.73 565.15 160.46 565.58 161.17 566.04C161.89 566.50 162.59 567.02 163.28 567.56C163.97 568.10 164.66 568.68 165.33 569.27C166.01 569.86 166.67 570.47 167.33 571.09C167.99 571.70 168.64 572.33 169.29 572.97C169.93 573.60 170.57 574.24 171.20 574.89C171.83 575.54 172.46 576.20 173.07 576.87C173.69 577.53 174.31 578.21 174.91 578.89C175.52 579.57 176.12 580.25 176.72 580.94C177.32 581.63 177.91 582.33 178.50 583.03C179.08 583.73 179.67 584.44 180.25 585.15C180.83 585.86 181.40 586.58 181.98 587.29C182.55 588.01 183.12 588.74 183.69 589.46C184.26 590.18 184.82 590.91 185.39 591.64C185.95 592.37 186.51 593.10 187.08 593.84C187.64 594.57 188.20 595.30 188.75 596.04C189.31 596.77 189.87 597.51 190.43 598.24C190.99 598.98 191.54 599.71 192.10 600.45C192.66 601.18 193.22 601.92 193.78 602.65C194.34 603.38 194.90 604.11 195.46 604.84C196.02 605.57 196.59 606.29 197.15 607.02C197.72 607.74 198.29 608.46 198.86 609.18C199.43 609.89 200.00 610.60 200.58 611.31C201.15 612.02 201.73 612.73 202.32 613.42C202.90 614.12 203.49 614.82 204.08 615.50C204.68 616.19 205.27 616.87 205.87 617.55C206.48 618.22 207.08 618.89 207.70 619.55C208.31 620.22 208.93 620.87 209.55 621.52C210.17 622.17 210.80 622.81 211.43 623.45C212.06 624.08 212.70 624.71 213.34 625.34C213.98 625.96 214.62 626.58 215.27 627.19C215.92 627.80 216.57 628.41 217.22 629.01C217.88 629.61 218.54 630.21 219.20 630.80C219.86 631.39 220.53 631.97 221.20 632.55C221.87 633.13 222.54 633.71 223.22 634.28C223.89 634.85 224.57 635.42 225.25 635.98C225.93 636.54 226.61 637.10 227.29 637.65C227.98 638.20 228.66 638.75 229.35 639.29C230.04 639.84 230.73 640.38 231.42 640.91C232.12 641.45 232.81 641.98 233.50 642.51C234.20 643.04 234.89 643.56 235.59 644.09C236.29 644.61 236.99 645.13 237.68 645.64C238.38 646.16 239.08 646.67 239.78 647.18C240.48 647.69 241.18 648.20 241.88 648.70C242.58 649.21 243.28 649.71 243.98 650.21C244.68 650.71 245.73 651.45 246.08 651.70" fill="none" stroke="#ff2d2d" stroke-width="1.25" stroke-linejoin="round"/>
<path d="M52.56 762.10C52.61 760.05 52.76 754.65 52.88 749.80C53.00 744.95 53.04 737.52 53.28 733.00C53.52 728.48 54.11 724.92 54.32 722.70C54.53 720.48 54.48 720.69 54.55 719.68C54.63 718.67 54.70 717.67 54.78 716.66C54.85 715.66 54.92 714.65 54.99 713.64C55.06 712.64 55.13 711.63 55.20 710.63C55.27 709.62 55.34 708.62 55.40 707.61C55.47 706.61 55.53 705.60 55.60 704.60C55.66 703.59 55.72 702.59 55.79 701.58C55.85 700.58 55.91 699.57 55.97 698.57C56.03 697.56 56.09 696.56 56.15 695.56C56.21 694.55 56.27 693.55 56.32 692.54C56.38 691.54 56.44 690.54 56.49 689.53C56.55 688.53 56.61 687.52 56.66 686.52C56.72 685.52 56.77 684.51 56.82 683.51C56.88 682.51 56.93 681.50 56.99 680.50C57.04 679.50 57.09 678.49 57.14 677.49C57.20 676.49 57.25 675.48 57.30 674.48C57.35 673.48 57.40 672.47 57.46 671.47C57.51 670.47 57.56 669.46 57.61 668.46C57.66 667.46 57.71 666.46 57.77 665.45C57.82 664.45 57.87 663.45 57.92 662.44C57.97 661.44 58.02 660.44 58.08 659.44C58.13 658.43 58.18 657.43 58.23 656.43C58.29 655.42 58.34 654.42 58.39 653.42C58.45 652.41 58.50 651.41 58.55 650.41C58.61 649.41 58.66 648.40 58.72 647.40C58.77 646.40 58.83 645.39 58.88 644.39C58.94 643.39 58.99 642.38 59.05 641.38C59.11 640.38 59.17 639.37 59.23 638.37C59.28 637.37 59.34 636.36 59.40 635.36C59.46 634.36 59.52 633.35 59.59 632.35C59.65 631.35 59.71 630.34 59.78 629.34C59.84 628.34 59.90 627.33 59.97 626.33C60.04 625.32 60.10 624.32 60.17 623.32C60.24 622.31 60.31 621.31 60.38 620.30C60.45 619.30 60.52 618.29 60.59 617.29C60.67 616.29 60.74 615.28 60.82 614.28C60.89 613.27 60.97 612.27 61.05 611.26C61.13 610.26 61.21 609.25 61.29 608.25C61.37 607.24 61.45 606.24 61.54 605.23C61.62 604.22 61.71 603.22 61.80 602.21C61.89 601.21 61.98 600.20 62.07 599.19C62.16 598.19 62.25 597.18 62.35 596.17C62.44 595.17 62.54 594.16 62.64 593.15C62.74 592.15 62.84 591.14 62.94 590.13C63.04 589.13 63.15 588.12 63.26 587.11C63.36 586.10 63.47 585.09 63.58 584.09C63.69 583.08 63.81 582.07 63.92 581.06C64.04 580.05 64.15 579.04 64.28 578.03C64.40 577.03 64.50 576.01 64.67 575.02C64.83 574.03 64.98 573.04 65.25 572.11C65.51 571.18 65.81 570.25 66.24 569.43C66.67 568.61 67.23 567.73 67.82 567.20C68.41 566.67 69.13 566.27 69.80 566.26C70.48 566.25 71.22 566.67 71.88 567.16C72.53 567.66 73.15 568.44 73.71 569.23C74.27 570.01 74.77 570.95 75.25 571.85C75.74 572.74 76.18 573.72 76.62 574.60C77.07 575.48 77.50 576.32 77.94 577.13C78.38 577.93 78.82 578.68 79.28 579.45C79.73 580.22 80.19 580.95 80.67 581.73C81.16 582.50 81.66 583.30 82.18 584.10C82.70 584.90 83.25 585.75 83.82 586.54C84.39 587.33 84.98 588.14 85.59 588.86C86.21 589.59 86.84 590.29 87.50 590.89C88.16 591.49 88.85 592.04 89.55 592.45C90.26 592.87 90.99 593.18 91.74 593.37C92.49 593.56 93.27 593.62 94.04 593.60C94.82 593.58 95.61 593.44 96.39 593.24C97.17 593.05 97.96 592.75 98.72 592.42C99.49 592.09 100.24 591.69 100.97 591.25C101.70 590.82 102.41 590.34 103.11 589.82C103.80 589.31 104.48 588.76 105.15 588.18C105.82 587.61 106.47 587.00 107.12 586.39C107.77 585.77 108.41 585.13 109.04 584.49C109.68 583.84 110.31 583.18 110.94 582.53C111.56 581.88 112.19 581.22 112.81 580.57C113.44 579.93 114.07 579.28 114.70 578.66C115.34 578.04 115.97 577.43 116.62 576.85C117.27 576.27 117.92 575.72 118.59 575.18C119.25 574.64 119.92 574.13 120.60 573.63C121.28 573.13 121.96 572.66 122.66 572.20C123.35 571.73 124.06 571.29 124.77 570.86C125.48 570.42 126.20 570.00 126.93 569.60C127.66 569.19 128.40 568.79 129.15 568.40C129.89 568.01 130.65 567.63 131.41 567.26C132.18 566.88 132.95 566.51 133.73 566.16C134.51 565.81 135.30 565.46 136.09 565.14C136.88 564.82 137.67 564.51 138.47 564.22C139.27 563.94 140.08 563.68 140.88 563.44C141.69 563.21 142.50 563.00 143.30 562.83C144.11 562.66 144.92 562.51 145.73 562.41C146.53 562.31 147.34 562.24 148.14 562.22C148.94 562.20 149.74 562.21 150.54 562.28C151.33 562.35 152.12 562.46 152.91 562.61C153.69 562.76 154.47 562.96 155.25 563.19C156.02 563.42 156.79 563.69 157.55 563.99C158.31 564.29 159.07 564.63 159.81 564.99C160.56 565.36 161.30 565.75 162.03 566.17C162.76 566.59 163.49 567.04 164.20 567.50C164.91 567.96 165.62 568.45 166.31 568.95C167.01 569.46 167.69 569.98 168.37 570.51C169.04 571.05 169.71 571.60 170.36 572.16C171.02 572.73 171.67 573.31 172.31 573.90C172.95 574.50 173.58 575.10 174.21 575.72C174.83 576.34 175.45 576.97 176.06 577.61C176.68 578.26 177.28 578.91 177.88 579.57C178.48 580.24 179.07 580.91 179.66 581.59C180.25 582.27 180.83 582.96 181.41 583.66C181.99 584.36 182.56 585.07 183.13 585.78C183.70 586.49 184.26 587.21 184.83 587.94C185.39 588.66 185.95 589.39 186.51 590.12C187.06 590.86 187.62 591.60 188.17 592.34C188.73 593.08 189.28 593.82 189.83 594.57C190.38 595.32 190.93 596.07 191.48 596.82C192.03 597.56 192.58 598.32 193.12 599.06C193.67 599.81 194.22 600.56 194.77 601.31C195.32 602.06 195.88 602.81 196.43 603.55C196.98 604.29 197.54 605.04 198.10 605.77C198.65 606.51 199.21 607.25 199.78 607.98C200.34 608.70 200.91 609.43 201.48 610.15C202.05 610.87 202.62 611.58 203.20 612.28C203.78 612.99 204.36 613.69 204.95 614.38C205.54 615.07 206.13 615.75 206.73 616.42C207.33 617.09 207.94 617.75 208.55 618.41C209.16 619.06 209.77 619.71 210.40 620.35C211.02 620.99 211.64 621.62 212.27 622.24C212.90 622.87 213.54 623.48 214.18 624.09C214.81 624.70 215.46 625.31 216.10 625.90C216.75 626.50 217.40 627.10 218.05 627.68C218.70 628.27 219.36 628.85 220.02 629.43C220.68 630.01 221.34 630.59 222.00 631.16C222.66 631.73 223.33 632.29 224.00 632.86C224.67 633.42 225.33 633.99 226.01 634.55C226.68 635.11 227.35 635.66 228.02 636.22C228.69 636.77 229.37 637.33 230.04 637.88C230.72 638.44 231.39 638.99 232.06 639.54C232.74 640.10 233.41 640.65 234.09 641.20C234.76 641.76 235.44 642.31 236.11 642.87C236.78 643.42 237.45 643.98 238.12 644.54C238.79 645.10 239.46 645.66 240.13 646.23C240.80 646.79 241.46 647.36 242.13 647.93C242.79 648.50 243.45 649.07 244.11 649.65C244.77 650.23 245.75 651.11 246.08 651.40" fill="none" stroke="#2b2bff" stroke-width="1.25" stroke-dasharray="5.2 4.8" stroke-linejoin="round"/>
</g>
<path d="M41.90 554.40V783.10M325.40 554.40V783.10" fill="none" stroke="#464646" stroke-width="1.5"/>
<path d="M41.15 555.00H326.15M41.15 782.50H326.15" fill="none" stroke="#464646" stroke-width="1.2"/>
<line x1="65.80" y1="782.50" x2="65.80" y2="778.30" stroke="#464646" stroke-width="1.3"/>
<text x="65.80" y="795.05" font-size="9.7" text-anchor="middle" >0</text>
<line x1="89.42" y1="782.50" x2="89.42" y2="780.20" stroke="#464646" stroke-width="1.3"/>
<line x1="113.05" y1="782.50" x2="113.05" y2="778.30" stroke="#464646" stroke-width="1.3"/>
<text x="113.05" y="795.05" font-size="9.7" text-anchor="middle" >1000</text>
<line x1="136.68" y1="782.50" x2="136.68" y2="780.20" stroke="#464646" stroke-width="1.3"/>
<line x1="160.30" y1="782.50" x2="160.30" y2="778.30" stroke="#464646" stroke-width="1.3"/>
<text x="160.30" y="795.05" font-size="9.7" text-anchor="middle" >2000</text>
<line x1="183.93" y1="782.50" x2="183.93" y2="780.20" stroke="#464646" stroke-width="1.3"/>
<line x1="207.55" y1="782.50" x2="207.55" y2="778.30" stroke="#464646" stroke-width="1.3"/>
<text x="207.55" y="795.05" font-size="9.7" text-anchor="middle" >3000</text>
<line x1="231.18" y1="782.50" x2="231.18" y2="780.20" stroke="#464646" stroke-width="1.3"/>
<line x1="254.80" y1="782.50" x2="254.80" y2="778.30" stroke="#464646" stroke-width="1.3"/>
<text x="254.80" y="795.05" font-size="9.7" text-anchor="middle" >4000</text>
<line x1="278.43" y1="782.50" x2="278.43" y2="780.20" stroke="#464646" stroke-width="1.3"/>
<line x1="302.05" y1="782.50" x2="302.05" y2="778.30" stroke="#464646" stroke-width="1.3"/>
<text x="302.05" y="795.05" font-size="9.7" text-anchor="middle" >5000</text>
<line x1="41.90" y1="761.60" x2="46.10" y2="761.60" stroke="#464646" stroke-width="1.05"/>
<text x="37.30" y="764.85" font-size="9.7" text-anchor="end" >0.0</text>
<line x1="41.90" y1="740.94" x2="44.20" y2="740.94" stroke="#464646" stroke-width="1.05"/>
<line x1="41.90" y1="720.28" x2="46.10" y2="720.28" stroke="#464646" stroke-width="1.05"/>
<text x="37.30" y="723.53" font-size="9.7" text-anchor="end" >0.2</text>
<line x1="41.90" y1="699.62" x2="44.20" y2="699.62" stroke="#464646" stroke-width="1.05"/>
<line x1="41.90" y1="678.96" x2="46.10" y2="678.96" stroke="#464646" stroke-width="1.05"/>
<text x="37.30" y="682.21" font-size="9.7" text-anchor="end" >0.4</text>
<line x1="41.90" y1="658.30" x2="44.20" y2="658.30" stroke="#464646" stroke-width="1.05"/>
<line x1="41.90" y1="637.64" x2="46.10" y2="637.64" stroke="#464646" stroke-width="1.05"/>
<text x="37.30" y="640.89" font-size="9.7" text-anchor="end" >0.6</text>
<line x1="41.90" y1="616.98" x2="44.20" y2="616.98" stroke="#464646" stroke-width="1.05"/>
<line x1="41.90" y1="596.32" x2="46.10" y2="596.32" stroke="#464646" stroke-width="1.05"/>
<text x="37.30" y="599.57" font-size="9.7" text-anchor="end" >0.8</text>
<line x1="41.90" y1="575.66" x2="44.20" y2="575.66" stroke="#464646" stroke-width="1.05"/>
<line x1="41.90" y1="555.00" x2="46.10" y2="555.00" stroke="#464646" stroke-width="1.05"/>
<text x="37.30" y="558.25" font-size="9.7" text-anchor="end" >1.0</text>
<text x="183.65" y="812.80" font-size="11.9" text-anchor="middle" >Frequency (Hz)</text>
<text transform="translate(20.40 668.15) rotate(-90)" font-size="11.6" text-anchor="middle">Absorption coefficient</text>
<text x="0.00" y="549.50" font-size="13.6" text-anchor="start" >(c)</text>
<line x1="244.90" y1="562.90" x2="271.70" y2="562.90" stroke="#ff2d2d" stroke-width="1.3"/>
<line x1="244.90" y1="577.20" x2="271.70" y2="577.20" stroke="#2b2bff" stroke-width="1.3" stroke-dasharray="6 5.3"/>
<text x="274.70" y="566.80" font-size="11.6" text-anchor="start" >Analytical</text>
<text x="274.70" y="581.10" font-size="11.6" text-anchor="start" >Predictive</text>
<g transform="scale(1.25 1)">
<path d="M52.56 1030.40C52.60 1029.37 52.68 1025.57 52.80 1024.20C52.92 1022.83 52.97 1022.73 53.28 1022.20C53.59 1021.67 54.15 1022.10 54.64 1021.00C55.13 1019.90 55.88 1017.00 56.24 1015.60C56.60 1014.20 56.59 1013.60 56.77 1012.61C56.95 1011.61 57.13 1010.61 57.31 1009.62C57.49 1008.62 57.67 1007.63 57.85 1006.63C58.03 1005.64 58.21 1004.65 58.39 1003.65C58.57 1002.66 58.75 1001.67 58.94 1000.68C59.12 999.69 59.30 998.70 59.49 997.71C59.67 996.72 59.85 995.73 60.04 994.74C60.22 993.75 60.41 992.76 60.60 991.78C60.78 990.79 60.97 989.80 61.15 988.82C61.34 987.83 61.53 986.84 61.72 985.86C61.90 984.87 62.09 983.89 62.28 982.90C62.47 981.92 62.66 980.94 62.85 979.95C63.04 978.97 63.23 977.99 63.42 977.00C63.61 976.02 63.80 975.04 64.00 974.05C64.19 973.07 64.38 972.09 64.57 971.11C64.77 970.13 64.96 969.15 65.15 968.17C65.35 967.18 65.54 966.20 65.74 965.22C65.93 964.24 66.13 963.26 66.32 962.28C66.52 961.30 66.72 960.32 66.91 959.34C67.11 958.36 67.31 957.38 67.50 956.40C67.70 955.42 67.90 954.44 68.10 953.46C68.30 952.48 68.50 951.50 68.70 950.52C68.90 949.54 69.10 948.56 69.30 947.58C69.50 946.60 69.70 945.63 69.90 944.65C70.10 943.67 70.30 942.69 70.50 941.71C70.71 940.73 70.91 939.74 71.11 938.76C71.31 937.78 71.52 936.80 71.72 935.82C71.92 934.84 72.13 933.86 72.33 932.88C72.54 931.90 72.74 930.92 72.95 929.93C73.15 928.95 73.36 927.97 73.57 926.99C73.77 926.01 73.98 925.02 74.19 924.04C74.39 923.06 74.60 922.07 74.81 921.09C75.02 920.11 75.22 919.12 75.43 918.14C75.64 917.15 75.85 916.17 76.06 915.18C76.27 914.19 76.48 913.21 76.69 912.22C76.90 911.23 77.11 910.25 77.32 909.26C77.53 908.27 77.74 907.28 77.96 906.30C78.17 905.31 78.39 904.32 78.60 903.34C78.82 902.35 79.04 901.37 79.27 900.38C79.49 899.40 79.72 898.42 79.95 897.44C80.18 896.45 80.41 895.48 80.65 894.50C80.89 893.52 81.13 892.55 81.37 891.58C81.62 890.61 81.87 889.64 82.13 888.67C82.39 887.71 82.65 886.74 82.92 885.78C83.20 884.83 83.47 883.87 83.76 882.92C84.04 881.97 84.33 881.02 84.63 880.08C84.93 879.14 85.23 878.20 85.55 877.27C85.86 876.34 86.18 875.41 86.52 874.49C86.85 873.57 87.19 872.65 87.54 871.74C87.89 870.83 88.25 869.93 88.62 869.03C88.99 868.14 89.37 867.25 89.77 866.36C90.16 865.48 90.56 864.60 90.98 863.74C91.39 862.87 91.82 862.01 92.26 861.15C92.70 860.30 93.15 859.45 93.62 858.62C94.08 857.78 94.56 856.95 95.05 856.13C95.54 855.31 96.05 854.50 96.57 853.70C97.09 852.90 97.62 852.11 98.17 851.34C98.72 850.57 99.29 849.81 99.87 849.09C100.45 848.37 101.05 847.66 101.66 847.00C102.28 846.35 102.91 845.72 103.56 845.14C104.20 844.57 104.87 844.03 105.55 843.56C106.24 843.08 106.94 842.66 107.66 842.30C108.39 841.94 109.13 841.65 109.89 841.42C110.64 841.18 111.42 841.01 112.20 840.89C112.98 840.77 113.78 840.71 114.58 840.69C115.37 840.67 116.18 840.70 116.99 840.77C117.80 840.84 118.61 840.96 119.42 841.11C120.22 841.26 121.03 841.46 121.83 841.67C122.62 841.89 123.42 842.15 124.21 842.42C125.00 842.70 125.79 843.00 126.57 843.33C127.35 843.65 128.13 844.00 128.90 844.35C129.68 844.71 130.45 845.09 131.22 845.47C131.99 845.85 132.76 846.25 133.53 846.65C134.29 847.05 135.05 847.46 135.82 847.86C136.58 848.26 137.34 848.67 138.10 849.06C138.86 849.46 139.62 849.85 140.37 850.23C141.13 850.61 141.89 850.98 142.65 851.35C143.41 851.72 144.16 852.08 144.92 852.43C145.68 852.78 146.44 853.12 147.20 853.46C147.96 853.79 148.73 854.12 149.49 854.45C150.26 854.77 151.02 855.08 151.79 855.39C152.56 855.70 153.34 856.00 154.11 856.29C154.89 856.59 155.67 856.87 156.45 857.15C157.24 857.43 158.03 857.71 158.82 857.96C159.61 858.22 160.40 858.47 161.20 858.69C161.99 858.92 162.79 859.13 163.59 859.31C164.39 859.50 165.19 859.66 165.99 859.79C166.78 859.92 167.58 860.02 168.38 860.08C169.18 860.15 169.98 860.17 170.78 860.17C171.57 860.17 172.37 860.13 173.16 860.07C173.96 860.01 174.75 859.92 175.55 859.80C176.34 859.69 177.14 859.55 177.93 859.39C178.72 859.23 179.52 859.05 180.31 858.86C181.11 858.66 181.90 858.45 182.69 858.23C183.49 858.01 184.28 857.77 185.07 857.53C185.87 857.29 186.66 857.04 187.46 856.78C188.25 856.53 189.05 856.27 189.84 856.01C190.64 855.75 191.43 855.49 192.23 855.23C193.03 854.97 193.82 854.71 194.62 854.45C195.42 854.19 196.21 853.94 197.01 853.70C197.81 853.45 198.60 853.21 199.40 852.98C200.20 852.75 200.99 852.53 201.79 852.32C202.59 852.11 203.38 851.91 204.18 851.73C204.98 851.55 205.78 851.38 206.57 851.23C207.37 851.08 208.17 850.95 208.96 850.84C209.76 850.73 210.55 850.63 211.35 850.56C212.15 850.50 212.94 850.45 213.74 850.43C214.53 850.41 215.33 850.41 216.12 850.44C216.91 850.48 217.71 850.54 218.50 850.63C219.29 850.72 220.09 850.84 220.88 851.00C221.67 851.16 222.46 851.35 223.25 851.58C224.04 851.80 224.83 852.07 225.62 852.35C226.41 852.64 227.20 852.96 227.98 853.30C228.76 853.65 229.54 854.02 230.32 854.40C231.09 854.79 231.86 855.20 232.63 855.62C233.40 856.04 234.16 856.48 234.91 856.93C235.67 857.38 236.42 857.84 237.16 858.30C237.91 858.77 238.64 859.24 239.37 859.72C240.10 860.19 240.82 860.67 241.53 861.14C242.24 861.61 242.94 862.08 243.63 862.54C244.33 863.00 245.34 863.67 245.68 863.90" fill="none" stroke="#ff2d2d" stroke-width="1.25" stroke-linejoin="round"/>
<path d="M52.56 1030.40C52.63 1029.50 52.68 1026.78 52.96 1025.00C53.24 1023.22 53.73 1021.37 54.24 1019.70C54.75 1018.03 55.59 1016.26 56.00 1015.00C56.41 1013.74 56.47 1013.09 56.69 1012.13C56.92 1011.18 57.14 1010.21 57.36 1009.24C57.57 1008.28 57.78 1007.30 57.99 1006.33C58.20 1005.35 58.40 1004.37 58.61 1003.39C58.81 1002.41 59.00 1001.42 59.20 1000.44C59.39 999.45 59.58 998.46 59.77 997.47C59.96 996.48 60.15 995.48 60.33 994.48C60.51 993.49 60.70 992.49 60.88 991.49C61.06 990.49 61.24 989.49 61.41 988.49C61.59 987.49 61.77 986.49 61.94 985.49C62.12 984.49 62.29 983.49 62.47 982.48C62.64 981.48 62.82 980.48 62.99 979.48C63.17 978.48 63.34 977.48 63.52 976.48C63.69 975.48 63.87 974.48 64.05 973.49C64.23 972.49 64.41 971.50 64.59 970.50C64.77 969.51 64.95 968.52 65.13 967.53C65.32 966.54 65.50 965.56 65.69 964.58C65.88 963.59 66.07 962.61 66.26 961.63C66.46 960.66 66.65 959.68 66.85 958.70C67.04 957.73 67.24 956.76 67.44 955.78C67.64 954.81 67.84 953.84 68.04 952.87C68.24 951.90 68.45 950.94 68.65 949.97C68.86 949.00 69.06 948.04 69.27 947.07C69.48 946.11 69.68 945.14 69.89 944.18C70.10 943.21 70.31 942.25 70.52 941.28C70.73 940.32 70.94 939.35 71.16 938.39C71.37 937.43 71.58 936.46 71.79 935.50C72.01 934.53 72.22 933.57 72.43 932.60C72.65 931.63 72.86 930.67 73.08 929.70C73.29 928.73 73.51 927.76 73.72 926.79C73.93 925.82 74.15 924.85 74.36 923.87C74.58 922.90 74.79 921.92 75.00 920.95C75.22 919.97 75.43 918.99 75.64 918.01C75.86 917.03 76.07 916.04 76.28 915.06C76.49 914.07 76.70 913.08 76.92 912.09C77.13 911.10 77.34 910.10 77.55 909.11C77.76 908.11 77.96 907.11 78.18 906.12C78.39 905.12 78.60 904.12 78.81 903.12C79.03 902.12 79.24 901.12 79.46 900.12C79.68 899.12 79.90 898.12 80.13 897.13C80.35 896.13 80.58 895.13 80.81 894.14C81.05 893.15 81.28 892.16 81.53 891.17C81.77 890.19 82.02 889.20 82.27 888.22C82.53 887.25 82.79 886.27 83.06 885.30C83.32 884.33 83.60 883.37 83.88 882.41C84.17 881.45 84.46 880.50 84.76 879.55C85.06 878.61 85.37 877.67 85.68 876.74C86.00 875.81 86.33 874.89 86.67 873.97C87.01 873.06 87.36 872.15 87.72 871.26C88.08 870.36 88.45 869.48 88.84 868.60C89.22 867.72 89.62 866.86 90.03 866.00C90.44 865.15 90.87 864.31 91.30 863.47C91.74 862.64 92.19 861.82 92.66 861.02C93.13 860.21 93.61 859.42 94.11 858.64C94.60 857.86 95.12 857.10 95.65 856.35C96.18 855.60 96.72 854.86 97.29 854.14C97.85 853.42 98.44 852.71 99.04 852.03C99.64 851.35 100.26 850.68 100.89 850.04C101.52 849.40 102.18 848.78 102.85 848.20C103.51 847.62 104.20 847.07 104.90 846.57C105.60 846.06 106.32 845.59 107.05 845.17C107.79 844.75 108.54 844.38 109.30 844.06C110.06 843.74 110.84 843.47 111.63 843.25C112.41 843.03 113.22 842.87 114.02 842.74C114.82 842.61 115.63 842.53 116.44 842.48C117.25 842.43 118.06 842.42 118.87 842.44C119.67 842.46 120.48 842.51 121.28 842.59C122.09 842.67 122.89 842.78 123.69 842.92C124.49 843.05 125.29 843.21 126.09 843.39C126.88 843.57 127.68 843.77 128.48 843.99C129.27 844.20 130.07 844.44 130.86 844.69C131.65 844.93 132.45 845.20 133.24 845.47C134.03 845.74 134.83 846.02 135.62 846.31C136.41 846.60 137.20 846.89 137.99 847.19C138.78 847.48 139.57 847.78 140.36 848.08C141.15 848.38 141.94 848.67 142.73 848.96C143.53 849.25 144.32 849.54 145.11 849.82C145.90 850.10 146.69 850.37 147.48 850.62C148.27 850.88 149.07 851.12 149.86 851.35C150.65 851.58 151.45 851.79 152.24 851.98C153.04 852.18 153.83 852.35 154.63 852.50C155.43 852.66 156.23 852.79 157.02 852.91C157.82 853.03 158.62 853.13 159.42 853.22C160.22 853.31 161.02 853.38 161.83 853.43C162.63 853.49 163.43 853.53 164.23 853.57C165.04 853.60 165.84 853.61 166.64 853.62C167.45 853.63 168.25 853.62 169.06 853.61C169.87 853.60 170.67 853.57 171.48 853.54C172.29 853.51 173.09 853.47 173.90 853.42C174.71 853.38 175.52 853.32 176.33 853.27C177.14 853.21 177.95 853.14 178.76 853.07C179.57 853.01 180.38 852.93 181.19 852.86C182.00 852.79 182.81 852.71 183.62 852.63C184.43 852.55 185.25 852.47 186.06 852.39C186.87 852.32 187.68 852.24 188.50 852.16C189.31 852.09 190.12 852.01 190.94 851.94C191.75 851.87 192.56 851.80 193.37 851.74C194.19 851.67 195.00 851.61 195.81 851.56C196.63 851.51 197.44 851.46 198.25 851.42C199.06 851.38 199.87 851.35 200.68 851.33C201.49 851.30 202.31 851.29 203.11 851.28C203.92 851.28 204.73 851.28 205.54 851.30C206.35 851.32 207.15 851.35 207.96 851.39C208.76 851.43 209.57 851.49 210.37 851.56C211.18 851.63 211.98 851.71 212.78 851.81C213.58 851.91 214.38 852.02 215.17 852.16C215.97 852.29 216.77 852.44 217.56 852.60C218.36 852.77 219.15 852.96 219.94 853.17C220.73 853.37 221.52 853.60 222.30 853.85C223.09 854.09 223.87 854.37 224.66 854.65C225.44 854.94 226.22 855.24 227.00 855.56C227.78 855.88 228.55 856.21 229.33 856.56C230.10 856.90 230.88 857.25 231.65 857.61C232.42 857.97 233.19 858.34 233.95 858.70C234.72 859.07 235.49 859.44 236.25 859.81C237.02 860.17 237.78 860.54 238.54 860.90C239.30 861.26 240.06 861.62 240.82 861.97C241.58 862.31 242.34 862.65 243.10 862.97C243.85 863.29 244.98 863.75 245.36 863.90" fill="none" stroke="#2b2bff" stroke-width="1.25" stroke-dasharray="5.2 4.8" stroke-linejoin="round"/>
</g>
<path d="M41.90 823.00V1052.10M325.40 823.00V1052.10" fill="none" stroke="#464646" stroke-width="1.5"/>
<path d="M41.15 823.60H326.15M41.15 1051.50H326.15" fill="none" stroke="#464646" stroke-width="1.2"/>
<line x1="65.80" y1="1051.50" x2="65.80" y2="1047.30" stroke="#464646" stroke-width="1.3"/>
<text x="65.80" y="1063.95" font-size="9.7" text-anchor="middle" >0</text>
<line x1="89.42" y1="1051.50" x2="89.42" y2="1049.20" stroke="#464646" stroke-width="1.3"/>
<line x1="113.05" y1="1051.50" x2="113.05" y2="1047.30" stroke="#464646" stroke-width="1.3"/>
<text x="113.05" y="1063.95" font-size="9.7" text-anchor="middle" >1000</text>
<line x1="136.68" y1="1051.50" x2="136.68" y2="1049.20" stroke="#464646" stroke-width="1.3"/>
<line x1="160.30" y1="1051.50" x2="160.30" y2="1047.30" stroke="#464646" stroke-width="1.3"/>
<text x="160.30" y="1063.95" font-size="9.7" text-anchor="middle" >2000</text>
<line x1="183.93" y1="1051.50" x2="183.93" y2="1049.20" stroke="#464646" stroke-width="1.3"/>
<line x1="207.55" y1="1051.50" x2="207.55" y2="1047.30" stroke="#464646" stroke-width="1.3"/>
<text x="207.55" y="1063.95" font-size="9.7" text-anchor="middle" >3000</text>
<line x1="231.18" y1="1051.50" x2="231.18" y2="1049.20" stroke="#464646" stroke-width="1.3"/>
<line x1="254.80" y1="1051.50" x2="254.80" y2="1047.30" stroke="#464646" stroke-width="1.3"/>
<text x="254.80" y="1063.95" font-size="9.7" text-anchor="middle" >4000</text>
<line x1="278.43" y1="1051.50" x2="278.43" y2="1049.20" stroke="#464646" stroke-width="1.3"/>
<line x1="302.05" y1="1051.50" x2="302.05" y2="1047.30" stroke="#464646" stroke-width="1.3"/>
<text x="302.05" y="1063.95" font-size="9.7" text-anchor="middle" >5000</text>
<line x1="41.90" y1="1030.40" x2="46.10" y2="1030.40" stroke="#464646" stroke-width="1.05"/>
<text x="37.30" y="1033.65" font-size="9.7" text-anchor="end" >0.0</text>
<line x1="41.90" y1="1009.72" x2="44.20" y2="1009.72" stroke="#464646" stroke-width="1.05"/>
<line x1="41.90" y1="989.04" x2="46.10" y2="989.04" stroke="#464646" stroke-width="1.05"/>
<text x="37.30" y="992.29" font-size="9.7" text-anchor="end" >0.2</text>
<line x1="41.90" y1="968.36" x2="44.20" y2="968.36" stroke="#464646" stroke-width="1.05"/>
<line x1="41.90" y1="947.68" x2="46.10" y2="947.68" stroke="#464646" stroke-width="1.05"/>
<text x="37.30" y="950.93" font-size="9.7" text-anchor="end" >0.4</text>
<line x1="41.90" y1="927.00" x2="44.20" y2="927.00" stroke="#464646" stroke-width="1.05"/>
<line x1="41.90" y1="906.32" x2="46.10" y2="906.32" stroke="#464646" stroke-width="1.05"/>
<text x="37.30" y="909.57" font-size="9.7" text-anchor="end" >0.6</text>
<line x1="41.90" y1="885.64" x2="44.20" y2="885.64" stroke="#464646" stroke-width="1.05"/>
<line x1="41.90" y1="864.96" x2="46.10" y2="864.96" stroke="#464646" stroke-width="1.05"/>
<text x="37.30" y="868.21" font-size="9.7" text-anchor="end" >0.8</text>
<line x1="41.90" y1="844.28" x2="44.20" y2="844.28" stroke="#464646" stroke-width="1.05"/>
<line x1="41.90" y1="823.60" x2="46.10" y2="823.60" stroke="#464646" stroke-width="1.05"/>
<text x="37.30" y="826.85" font-size="9.7" text-anchor="end" >1.0</text>
<text x="183.65" y="1081.80" font-size="11.9" text-anchor="middle" >Frequency (Hz)</text>
<text transform="translate(20.40 936.95) rotate(-90)" font-size="11.6" text-anchor="middle">Absorption coefficient</text>
<text x="0.00" y="816.00" font-size="13.6" text-anchor="start" >(d)</text>
<line x1="245.40" y1="879.10" x2="272.30" y2="879.10" stroke="#ff2d2d" stroke-width="1.3"/>
<line x1="245.40" y1="893.40" x2="272.30" y2="893.40" stroke="#2b2bff" stroke-width="1.3" stroke-dasharray="6 5.3"/>
<text x="275.20" y="883.00" font-size="11.6" text-anchor="start" >Analytical</text>
<text x="275.20" y="897.30" font-size="11.6" text-anchor="start" >Predictive</text>
<clipPath id="cpe"><rect x="401.55" y="12.90" width="280.40" height="225.30"/></clipPath>
<path d="M402.00 123.00C402.32 122.63 403.10 121.43 403.91 120.77C404.72 120.11 405.89 119.38 406.86 119.04C407.82 118.71 408.88 118.54 409.67 118.75C410.47 118.97 411.08 119.60 411.62 120.33C412.16 121.06 412.53 122.12 412.90 123.13C413.26 124.14 413.53 125.32 413.82 126.38C414.10 127.45 414.36 128.51 414.61 129.54C414.86 130.56 415.10 131.56 415.33 132.55C415.55 133.53 415.77 134.50 415.98 135.45C416.20 136.41 416.40 137.35 416.61 138.29C416.81 139.22 417.01 140.15 417.22 141.08C417.42 142.01 417.62 142.93 417.83 143.87C418.04 144.80 418.25 145.73 418.47 146.68C418.69 147.63 418.92 148.58 419.16 149.55C419.40 150.53 419.65 151.51 419.92 152.52C420.19 153.53 420.47 154.56 420.77 155.62C421.07 156.67 421.37 157.79 421.75 158.83C422.12 159.88 422.50 160.97 423.01 161.88C423.52 162.80 424.11 163.73 424.79 164.33C425.47 164.94 426.32 165.50 427.09 165.52C427.86 165.54 428.70 165.04 429.42 164.46C430.13 163.87 430.81 162.89 431.39 162.03C431.96 161.17 432.44 160.23 432.87 159.29C433.30 158.36 433.64 157.38 433.98 156.40C434.31 155.42 434.58 154.42 434.85 153.43C435.13 152.44 435.38 151.43 435.64 150.44C435.91 149.45 436.17 148.47 436.45 147.50C436.72 146.52 437.00 145.55 437.29 144.59C437.57 143.62 437.87 142.67 438.17 141.71C438.48 140.76 438.79 139.81 439.12 138.87C439.45 137.92 439.79 136.98 440.15 136.04C440.50 135.11 440.87 134.17 441.26 133.24C441.65 132.31 442.05 131.38 442.48 130.46C442.90 129.53 443.34 128.60 443.80 127.68C444.27 126.76 444.75 125.81 445.26 124.91C445.78 124.01 446.30 123.06 446.89 122.27C447.48 121.47 448.10 120.69 448.81 120.13C449.52 119.57 450.29 119.11 451.15 118.91C452.01 118.70 452.99 118.77 453.99 118.90C455.00 119.04 456.10 119.42 457.18 119.70C458.25 119.98 459.38 120.40 460.44 120.59C461.50 120.79 462.55 120.94 463.53 120.87C464.51 120.80 465.42 120.53 466.30 120.17C467.18 119.81 468.01 119.28 468.83 118.71C469.65 118.15 470.44 117.46 471.23 116.78C472.02 116.10 472.79 115.35 473.58 114.65C474.38 113.96 475.16 113.23 476.00 112.61C476.83 111.99 477.67 111.38 478.57 110.93C479.47 110.47 480.43 110.09 481.38 109.88C482.33 109.67 483.35 109.57 484.30 109.66C485.24 109.75 486.20 109.98 487.04 110.41C487.88 110.83 488.65 111.49 489.35 112.21C490.05 112.94 490.66 113.87 491.24 114.76C491.83 115.64 492.36 116.61 492.88 117.54C493.40 118.46 493.89 119.38 494.36 120.29C494.84 121.20 495.28 122.11 495.72 123.02C496.16 123.92 496.58 124.82 496.99 125.72C497.41 126.62 497.81 127.51 498.21 128.41C498.61 129.31 499.01 130.20 499.41 131.09C499.81 131.99 500.21 132.88 500.63 133.78C501.04 134.68 501.46 135.58 501.90 136.48C502.34 137.38 502.79 138.28 503.26 139.19C503.73 140.10 504.22 141.01 504.74 141.93C505.27 142.85 505.80 143.80 506.39 144.70C506.97 145.60 507.57 146.56 508.24 147.34C508.91 148.12 509.61 148.88 510.39 149.35C511.18 149.83 512.04 150.17 512.94 150.20C513.85 150.22 514.94 149.92 515.81 149.49C516.67 149.06 517.48 148.35 518.15 147.59C518.82 146.84 519.32 145.90 519.82 144.97C520.31 144.04 520.70 142.99 521.12 142.00C521.54 141.02 521.93 140.01 522.36 139.07C522.78 138.12 523.22 137.22 523.68 136.33C524.13 135.44 524.60 134.59 525.09 133.73C525.58 132.88 526.08 132.05 526.60 131.21C527.11 130.36 527.64 129.53 528.19 128.68C528.74 127.83 529.29 126.97 529.87 126.09C530.45 125.21 531.02 124.27 531.65 123.41C532.28 122.54 532.91 121.64 533.63 120.89C534.34 120.15 535.10 119.45 535.93 118.95C536.77 118.45 537.70 118.09 538.63 117.89C539.56 117.69 540.56 117.64 541.50 117.74C542.45 117.84 543.42 118.09 544.28 118.48C545.15 118.87 545.98 119.44 546.71 120.09C547.45 120.74 548.10 121.56 548.71 122.39C549.32 123.22 549.87 124.16 550.40 125.07C550.93 125.98 551.42 126.92 551.90 127.86C552.38 128.79 552.83 129.72 553.27 130.66C553.71 131.60 554.12 132.54 554.53 133.48C554.94 134.42 555.34 135.36 555.73 136.30C556.12 137.24 556.50 138.18 556.88 139.11C557.26 140.05 557.63 140.98 558.02 141.91C558.40 142.84 558.78 143.76 559.17 144.68C559.57 145.60 559.97 146.51 560.38 147.42C560.80 148.32 561.22 149.22 561.67 150.11C562.12 150.99 562.58 151.87 563.07 152.74C563.56 153.61 564.07 154.47 564.61 155.31C565.16 156.16 565.72 156.99 566.33 157.81C566.93 158.63 567.57 159.44 568.24 160.22C568.92 161.01 569.64 161.79 570.39 162.53C571.14 163.27 571.93 164.00 572.74 164.67C573.55 165.33 574.39 165.97 575.25 166.54C576.11 167.10 576.99 167.62 577.89 168.05C578.78 168.48 579.70 168.85 580.62 169.12C581.54 169.39 582.47 169.58 583.40 169.66C584.33 169.73 585.27 169.70 586.20 169.58C587.13 169.46 588.06 169.22 588.99 168.93C589.92 168.63 590.85 168.24 591.77 167.80C592.69 167.36 593.60 166.85 594.51 166.31C595.42 165.77 596.32 165.17 597.21 164.56C598.10 163.95 598.99 163.30 599.86 162.65C600.73 162.01 601.60 161.34 602.45 160.70C603.30 160.06 604.13 159.42 604.96 158.80C605.79 158.18 606.60 157.57 607.42 156.98C608.24 156.40 609.06 155.83 609.88 155.28C610.70 154.74 611.52 154.21 612.36 153.72C613.19 153.22 614.03 152.75 614.89 152.31C615.75 151.88 616.62 151.47 617.51 151.10C618.41 150.72 619.32 150.39 620.27 150.09C621.21 149.79 622.18 149.53 623.16 149.29C624.15 149.06 625.16 148.86 626.17 148.66C627.18 148.46 628.21 148.29 629.23 148.11C630.26 147.93 631.29 147.75 632.30 147.56C633.32 147.37 634.34 147.18 635.34 146.97C636.35 146.76 637.35 146.54 638.34 146.31C639.34 146.08 640.32 145.83 641.31 145.58C642.29 145.33 643.26 145.06 644.23 144.79C645.20 144.51 646.17 144.22 647.12 143.92C648.08 143.62 649.03 143.30 649.98 142.97C650.92 142.65 651.86 142.30 652.80 141.95C653.73 141.59 654.66 141.23 655.58 140.84C656.50 140.46 657.42 140.06 658.33 139.65C659.24 139.23 660.14 138.81 661.04 138.36C661.94 137.92 662.83 137.46 663.72 136.98C664.61 136.51 665.49 136.02 666.37 135.51C667.24 135.00 668.11 134.47 668.98 133.94C669.84 133.40 670.70 132.85 671.56 132.29C672.41 131.74 673.26 131.17 674.11 130.59C674.96 130.02 675.80 129.44 676.64 128.86C677.48 128.28 678.32 127.69 679.15 127.11C679.99 126.53 680.82 125.95 681.65 125.37C682.48 124.79 683.30 124.22 684.13 123.65C684.95 123.09 686.19 122.26 686.60 121.99L686.60 125.50L402.00 125.50Z" fill="#1f3dff" stroke="none" clip-path="url(#cpe)"/>
<path d="M402.00 12.30V238.80M681.80 12.30V238.80" fill="none" stroke="#464646" stroke-width="1.5"/>
<path d="M401.25 12.90H682.55M401.25 238.20H682.55" fill="none" stroke="#464646" stroke-width="1.2"/>
<text x="402.00" y="250.85" font-size="9.7" text-anchor="middle" >0</text>
<line x1="429.30" y1="238.20" x2="429.30" y2="235.90" stroke="#464646" stroke-width="1.3"/>
<line x1="429.30" y1="12.90" x2="429.30" y2="15.20" stroke="#464646" stroke-width="1.3"/>
<line x1="456.60" y1="238.20" x2="456.60" y2="234.00" stroke="#464646" stroke-width="1.3"/>
<line x1="456.60" y1="12.90" x2="456.60" y2="17.10" stroke="#464646" stroke-width="1.3"/>
<text x="456.60" y="250.85" font-size="9.7" text-anchor="middle" >1000</text>
<line x1="483.90" y1="238.20" x2="483.90" y2="235.90" stroke="#464646" stroke-width="1.3"/>
<line x1="483.90" y1="12.90" x2="483.90" y2="15.20" stroke="#464646" stroke-width="1.3"/>
<line x1="511.20" y1="238.20" x2="511.20" y2="234.00" stroke="#464646" stroke-width="1.3"/>
<line x1="511.20" y1="12.90" x2="511.20" y2="17.10" stroke="#464646" stroke-width="1.3"/>
<text x="511.20" y="250.85" font-size="9.7" text-anchor="middle" >2000</text>
<line x1="538.50" y1="238.20" x2="538.50" y2="235.90" stroke="#464646" stroke-width="1.3"/>
<line x1="538.50" y1="12.90" x2="538.50" y2="15.20" stroke="#464646" stroke-width="1.3"/>
<line x1="565.80" y1="238.20" x2="565.80" y2="234.00" stroke="#464646" stroke-width="1.3"/>
<line x1="565.80" y1="12.90" x2="565.80" y2="17.10" stroke="#464646" stroke-width="1.3"/>
<text x="565.80" y="250.85" font-size="9.7" text-anchor="middle" >3000</text>
<line x1="593.10" y1="238.20" x2="593.10" y2="235.90" stroke="#464646" stroke-width="1.3"/>
<line x1="593.10" y1="12.90" x2="593.10" y2="15.20" stroke="#464646" stroke-width="1.3"/>
<line x1="620.40" y1="238.20" x2="620.40" y2="234.00" stroke="#464646" stroke-width="1.3"/>
<line x1="620.40" y1="12.90" x2="620.40" y2="17.10" stroke="#464646" stroke-width="1.3"/>
<text x="620.40" y="250.85" font-size="9.7" text-anchor="middle" >4000</text>
<line x1="647.70" y1="238.20" x2="647.70" y2="235.90" stroke="#464646" stroke-width="1.3"/>
<line x1="647.70" y1="12.90" x2="647.70" y2="15.20" stroke="#464646" stroke-width="1.3"/>
<line x1="675.00" y1="238.20" x2="675.00" y2="234.00" stroke="#464646" stroke-width="1.3"/>
<line x1="675.00" y1="12.90" x2="675.00" y2="17.10" stroke="#464646" stroke-width="1.3"/>
<text x="675.00" y="250.85" font-size="9.7" text-anchor="middle" >5000</text>
<text x="397.10" y="241.45" font-size="9.7" text-anchor="end" >-0.05</text>
<line x1="402.00" y1="226.94" x2="404.30" y2="226.94" stroke="#464646" stroke-width="1.05"/>
<line x1="681.80" y1="226.94" x2="679.50" y2="226.94" stroke="#464646" stroke-width="1.05"/>
<line x1="402.00" y1="215.67" x2="406.20" y2="215.67" stroke="#464646" stroke-width="1.05"/>
<line x1="681.80" y1="215.67" x2="677.60" y2="215.67" stroke="#464646" stroke-width="1.05"/>
<text x="397.10" y="218.92" font-size="9.7" text-anchor="end" >-0.04</text>
<line x1="402.00" y1="204.41" x2="404.30" y2="204.41" stroke="#464646" stroke-width="1.05"/>
<line x1="681.80" y1="204.41" x2="679.50" y2="204.41" stroke="#464646" stroke-width="1.05"/>
<line x1="402.00" y1="193.14" x2="406.20" y2="193.14" stroke="#464646" stroke-width="1.05"/>
<line x1="681.80" y1="193.14" x2="677.60" y2="193.14" stroke="#464646" stroke-width="1.05"/>
<text x="397.10" y="196.39" font-size="9.7" text-anchor="end" >-0.03</text>
<line x1="402.00" y1="181.88" x2="404.30" y2="181.88" stroke="#464646" stroke-width="1.05"/>
<line x1="681.80" y1="181.88" x2="679.50" y2="181.88" stroke="#464646" stroke-width="1.05"/>
<line x1="402.00" y1="170.61" x2="406.20" y2="170.61" stroke="#464646" stroke-width="1.05"/>
<line x1="681.80" y1="170.61" x2="677.60" y2="170.61" stroke="#464646" stroke-width="1.05"/>
<text x="397.10" y="173.86" font-size="9.7" text-anchor="end" >-0.02</text>
<line x1="402.00" y1="159.34" x2="404.30" y2="159.34" stroke="#464646" stroke-width="1.05"/>
<line x1="681.80" y1="159.34" x2="679.50" y2="159.34" stroke="#464646" stroke-width="1.05"/>
<line x1="402.00" y1="148.08" x2="406.20" y2="148.08" stroke="#464646" stroke-width="1.05"/>
<line x1="681.80" y1="148.08" x2="677.60" y2="148.08" stroke="#464646" stroke-width="1.05"/>
<text x="397.10" y="151.33" font-size="9.7" text-anchor="end" >-0.01</text>
<line x1="402.00" y1="136.81" x2="404.30" y2="136.81" stroke="#464646" stroke-width="1.05"/>
<line x1="681.80" y1="136.81" x2="679.50" y2="136.81" stroke="#464646" stroke-width="1.05"/>
<line x1="402.00" y1="125.55" x2="406.20" y2="125.55" stroke="#464646" stroke-width="1.05"/>
<line x1="681.80" y1="125.55" x2="677.60" y2="125.55" stroke="#464646" stroke-width="1.05"/>
<text x="397.10" y="128.80" font-size="9.7" text-anchor="end" >0.00</text>
<line x1="402.00" y1="114.28" x2="404.30" y2="114.28" stroke="#464646" stroke-width="1.05"/>
<line x1="681.80" y1="114.28" x2="679.50" y2="114.28" stroke="#464646" stroke-width="1.05"/>
<line x1="402.00" y1="103.02" x2="406.20" y2="103.02" stroke="#464646" stroke-width="1.05"/>
<line x1="681.80" y1="103.02" x2="677.60" y2="103.02" stroke="#464646" stroke-width="1.05"/>
<text x="397.10" y="106.27" font-size="9.7" text-anchor="end" >0.01</text>
<line x1="402.00" y1="91.75" x2="404.30" y2="91.75" stroke="#464646" stroke-width="1.05"/>
<line x1="681.80" y1="91.75" x2="679.50" y2="91.75" stroke="#464646" stroke-width="1.05"/>
<line x1="402.00" y1="80.49" x2="406.20" y2="80.49" stroke="#464646" stroke-width="1.05"/>
<line x1="681.80" y1="80.49" x2="677.60" y2="80.49" stroke="#464646" stroke-width="1.05"/>
<text x="397.10" y="83.74" font-size="9.7" text-anchor="end" >0.02</text>
<line x1="402.00" y1="69.22" x2="404.30" y2="69.22" stroke="#464646" stroke-width="1.05"/>
<line x1="681.80" y1="69.22" x2="679.50" y2="69.22" stroke="#464646" stroke-width="1.05"/>
<line x1="402.00" y1="57.96" x2="406.20" y2="57.96" stroke="#464646" stroke-width="1.05"/>
<line x1="681.80" y1="57.96" x2="677.60" y2="57.96" stroke="#464646" stroke-width="1.05"/>
<text x="397.10" y="61.21" font-size="9.7" text-anchor="end" >0.03</text>
<line x1="402.00" y1="46.70" x2="404.30" y2="46.70" stroke="#464646" stroke-width="1.05"/>
<line x1="681.80" y1="46.70" x2="679.50" y2="46.70" stroke="#464646" stroke-width="1.05"/>
<line x1="402.00" y1="35.43" x2="406.20" y2="35.43" stroke="#464646" stroke-width="1.05"/>
<line x1="681.80" y1="35.43" x2="677.60" y2="35.43" stroke="#464646" stroke-width="1.05"/>
<text x="397.10" y="38.68" font-size="9.7" text-anchor="end" >0.04</text>
<line x1="402.00" y1="24.17" x2="404.30" y2="24.17" stroke="#464646" stroke-width="1.05"/>
<line x1="681.80" y1="24.17" x2="679.50" y2="24.17" stroke="#464646" stroke-width="1.05"/>
<text x="397.10" y="16.15" font-size="9.7" text-anchor="end" >0.05</text>
<path d="M402.00 123.00C402.32 122.63 403.10 121.43 403.91 120.77C404.72 120.11 405.89 119.38 406.86 119.04C407.82 118.71 408.88 118.54 409.67 118.75C410.47 118.97 411.08 119.60 411.62 120.33C412.16 121.06 412.53 122.12 412.90 123.13C413.26 124.14 413.53 125.32 413.82 126.38C414.10 127.45 414.36 128.51 414.61 129.54C414.86 130.56 415.10 131.56 415.33 132.55C415.55 133.53 415.77 134.50 415.98 135.45C416.20 136.41 416.40 137.35 416.61 138.29C416.81 139.22 417.01 140.15 417.22 141.08C417.42 142.01 417.62 142.93 417.83 143.87C418.04 144.80 418.25 145.73 418.47 146.68C418.69 147.63 418.92 148.58 419.16 149.55C419.40 150.53 419.65 151.51 419.92 152.52C420.19 153.53 420.47 154.56 420.77 155.62C421.07 156.67 421.37 157.79 421.75 158.83C422.12 159.88 422.50 160.97 423.01 161.88C423.52 162.80 424.11 163.73 424.79 164.33C425.47 164.94 426.32 165.50 427.09 165.52C427.86 165.54 428.70 165.04 429.42 164.46C430.13 163.87 430.81 162.89 431.39 162.03C431.96 161.17 432.44 160.23 432.87 159.29C433.30 158.36 433.64 157.38 433.98 156.40C434.31 155.42 434.58 154.42 434.85 153.43C435.13 152.44 435.38 151.43 435.64 150.44C435.91 149.45 436.17 148.47 436.45 147.50C436.72 146.52 437.00 145.55 437.29 144.59C437.57 143.62 437.87 142.67 438.17 141.71C438.48 140.76 438.79 139.81 439.12 138.87C439.45 137.92 439.79 136.98 440.15 136.04C440.50 135.11 440.87 134.17 441.26 133.24C441.65 132.31 442.05 131.38 442.48 130.46C442.90 129.53 443.34 128.60 443.80 127.68C444.27 126.76 444.75 125.81 445.26 124.91C445.78 124.01 446.30 123.06 446.89 122.27C447.48 121.47 448.10 120.69 448.81 120.13C449.52 119.57 450.29 119.11 451.15 118.91C452.01 118.70 452.99 118.77 453.99 118.90C455.00 119.04 456.10 119.42 457.18 119.70C458.25 119.98 459.38 120.40 460.44 120.59C461.50 120.79 462.55 120.94 463.53 120.87C464.51 120.80 465.42 120.53 466.30 120.17C467.18 119.81 468.01 119.28 468.83 118.71C469.65 118.15 470.44 117.46 471.23 116.78C472.02 116.10 472.79 115.35 473.58 114.65C474.38 113.96 475.16 113.23 476.00 112.61C476.83 111.99 477.67 111.38 478.57 110.93C479.47 110.47 480.43 110.09 481.38 109.88C482.33 109.67 483.35 109.57 484.30 109.66C485.24 109.75 486.20 109.98 487.04 110.41C487.88 110.83 488.65 111.49 489.35 112.21C490.05 112.94 490.66 113.87 491.24 114.76C491.83 115.64 492.36 116.61 492.88 117.54C493.40 118.46 493.89 119.38 494.36 120.29C494.84 121.20 495.28 122.11 495.72 123.02C496.16 123.92 496.58 124.82 496.99 125.72C497.41 126.62 497.81 127.51 498.21 128.41C498.61 129.31 499.01 130.20 499.41 131.09C499.81 131.99 500.21 132.88 500.63 133.78C501.04 134.68 501.46 135.58 501.90 136.48C502.34 137.38 502.79 138.28 503.26 139.19C503.73 140.10 504.22 141.01 504.74 141.93C505.27 142.85 505.80 143.80 506.39 144.70C506.97 145.60 507.57 146.56 508.24 147.34C508.91 148.12 509.61 148.88 510.39 149.35C511.18 149.83 512.04 150.17 512.94 150.20C513.85 150.22 514.94 149.92 515.81 149.49C516.67 149.06 517.48 148.35 518.15 147.59C518.82 146.84 519.32 145.90 519.82 144.97C520.31 144.04 520.70 142.99 521.12 142.00C521.54 141.02 521.93 140.01 522.36 139.07C522.78 138.12 523.22 137.22 523.68 136.33C524.13 135.44 524.60 134.59 525.09 133.73C525.58 132.88 526.08 132.05 526.60 131.21C527.11 130.36 527.64 129.53 528.19 128.68C528.74 127.83 529.29 126.97 529.87 126.09C530.45 125.21 531.02 124.27 531.65 123.41C532.28 122.54 532.91 121.64 533.63 120.89C534.34 120.15 535.10 119.45 535.93 118.95C536.77 118.45 537.70 118.09 538.63 117.89C539.56 117.69 540.56 117.64 541.50 117.74C542.45 117.84 543.42 118.09 544.28 118.48C545.15 118.87 545.98 119.44 546.71 120.09C547.45 120.74 548.10 121.56 548.71 122.39C549.32 123.22 549.87 124.16 550.40 125.07C550.93 125.98 551.42 126.92 551.90 127.86C552.38 128.79 552.83 129.72 553.27 130.66C553.71 131.60 554.12 132.54 554.53 133.48C554.94 134.42 555.34 135.36 555.73 136.30C556.12 137.24 556.50 138.18 556.88 139.11C557.26 140.05 557.63 140.98 558.02 141.91C558.40 142.84 558.78 143.76 559.17 144.68C559.57 145.60 559.97 146.51 560.38 147.42C560.80 148.32 561.22 149.22 561.67 150.11C562.12 150.99 562.58 151.87 563.07 152.74C563.56 153.61 564.07 154.47 564.61 155.31C565.16 156.16 565.72 156.99 566.33 157.81C566.93 158.63 567.57 159.44 568.24 160.22C568.92 161.01 569.64 161.79 570.39 162.53C571.14 163.27 571.93 164.00 572.74 164.67C573.55 165.33 574.39 165.97 575.25 166.54C576.11 167.10 576.99 167.62 577.89 168.05C578.78 168.48 579.70 168.85 580.62 169.12C581.54 169.39 582.47 169.58 583.40 169.66C584.33 169.73 585.27 169.70 586.20 169.58C587.13 169.46 588.06 169.22 588.99 168.93C589.92 168.63 590.85 168.24 591.77 167.80C592.69 167.36 593.60 166.85 594.51 166.31C595.42 165.77 596.32 165.17 597.21 164.56C598.10 163.95 598.99 163.30 599.86 162.65C600.73 162.01 601.60 161.34 602.45 160.70C603.30 160.06 604.13 159.42 604.96 158.80C605.79 158.18 606.60 157.57 607.42 156.98C608.24 156.40 609.06 155.83 609.88 155.28C610.70 154.74 611.52 154.21 612.36 153.72C613.19 153.22 614.03 152.75 614.89 152.31C615.75 151.88 616.62 151.47 617.51 151.10C618.41 150.72 619.32 150.39 620.27 150.09C621.21 149.79 622.18 149.53 623.16 149.29C624.15 149.06 625.16 148.86 626.17 148.66C627.18 148.46 628.21 148.29 629.23 148.11C630.26 147.93 631.29 147.75 632.30 147.56C633.32 147.37 634.34 147.18 635.34 146.97C636.35 146.76 637.35 146.54 638.34 146.31C639.34 146.08 640.32 145.83 641.31 145.58C642.29 145.33 643.26 145.06 644.23 144.79C645.20 144.51 646.17 144.22 647.12 143.92C648.08 143.62 649.03 143.30 649.98 142.97C650.92 142.65 651.86 142.30 652.80 141.95C653.73 141.59 654.66 141.23 655.58 140.84C656.50 140.46 657.42 140.06 658.33 139.65C659.24 139.23 660.14 138.81 661.04 138.36C661.94 137.92 662.83 137.46 663.72 136.98C664.61 136.51 665.49 136.02 666.37 135.51C667.24 135.00 668.11 134.47 668.98 133.94C669.84 133.40 670.70 132.85 671.56 132.29C672.41 131.74 673.26 131.17 674.11 130.59C674.96 130.02 675.80 129.44 676.64 128.86C677.48 128.28 678.32 127.69 679.15 127.11C679.99 126.53 680.82 125.95 681.65 125.37C682.48 124.79 683.30 124.22 684.13 123.65C684.95 123.09 686.19 122.26 686.60 121.99L686.60 125.50L402.00 125.50Z" fill="#1f3dff" fill-opacity="0.82" stroke="none" clip-path="url(#cpe)"/>
<line x1="402.00" y1="125.50" x2="681.80" y2="125.50" stroke="#050510" stroke-width="1.15"/>
<text x="542.00" y="268.60" font-size="11.9" text-anchor="middle" >Frequency (Hz)</text>
<text transform="translate(372.30 125.25) rotate(-90)" font-size="11.6" text-anchor="middle">Error</text>
<text x="354.60" y="8.80" font-size="13.6" text-anchor="start" >(e)</text>
<text x="563.70" y="35.70" font-size="13.7" text-anchor="start" >Max Error: 1.95%</text>
<clipPath id="cpf"><rect x="401.55" y="288.40" width="280.40" height="225.60"/></clipPath>
<path d="M401.60 401.00C401.68 400.38 401.88 397.88 402.10 397.30C402.32 396.72 402.65 396.85 402.90 397.50C403.15 398.15 403.37 399.50 403.60 401.20C403.83 402.90 403.67 406.43 404.30 407.70C404.93 408.97 406.45 408.33 407.40 408.81C408.35 409.28 409.04 410.22 409.98 410.54C410.91 410.85 411.98 410.69 412.99 410.68C414.00 410.67 415.09 410.41 416.05 410.49C417.00 410.56 417.94 410.73 418.75 411.12C419.55 411.51 420.24 412.15 420.88 412.85C421.52 413.55 422.03 414.43 422.59 415.32C423.14 416.21 423.63 417.22 424.21 418.19C424.79 419.15 425.39 420.20 426.08 421.09C426.77 421.98 427.57 422.93 428.37 423.53C429.17 424.13 430.03 424.54 430.87 424.68C431.71 424.81 432.58 424.62 433.42 424.33C434.26 424.04 435.12 423.50 435.94 422.95C436.76 422.39 437.58 421.69 438.36 421.02C439.15 420.35 439.91 419.63 440.66 418.93C441.42 418.23 442.15 417.50 442.89 416.79C443.63 416.09 444.36 415.38 445.11 414.69C445.87 414.01 446.62 413.34 447.40 412.71C448.19 412.09 448.99 411.49 449.82 410.93C450.65 410.37 451.51 409.85 452.37 409.34C453.24 408.83 454.13 408.36 455.03 407.88C455.92 407.41 456.83 406.95 457.73 406.48C458.63 406.01 459.54 405.55 460.44 405.07C461.34 404.59 462.23 404.10 463.12 403.61C464.02 403.12 464.91 402.62 465.81 402.14C466.70 401.66 467.60 401.18 468.50 400.73C469.41 400.28 470.32 399.84 471.25 399.44C472.17 399.05 473.11 398.67 474.06 398.34C475.01 398.01 475.98 397.72 476.95 397.47C477.93 397.22 478.92 397.02 479.92 396.85C480.92 396.69 481.93 396.57 482.94 396.49C483.95 396.41 484.97 396.38 485.98 396.39C487.00 396.40 488.01 396.46 489.03 396.56C490.04 396.66 491.05 396.81 492.06 397.00C493.06 397.19 494.06 397.43 495.06 397.67C496.05 397.92 497.05 398.21 498.04 398.48C499.03 398.75 500.02 399.04 501.01 399.31C502.00 399.57 502.99 399.84 503.98 400.06C504.97 400.28 505.96 400.47 506.96 400.62C507.95 400.77 508.95 400.87 509.95 400.95C510.94 401.03 511.95 401.07 512.95 401.09C513.95 401.11 514.96 401.10 515.96 401.08C516.97 401.06 517.98 401.02 518.99 400.98C520.00 400.93 521.02 400.87 522.03 400.82C523.05 400.76 524.06 400.70 525.08 400.65C526.10 400.60 527.12 400.55 528.14 400.52C529.16 400.49 530.18 400.47 531.21 400.47C532.23 400.47 533.26 400.49 534.28 400.52C535.31 400.54 536.33 400.58 537.36 400.62C538.38 400.66 539.41 400.71 540.43 400.75C541.45 400.79 542.48 400.83 543.50 400.85C544.51 400.88 545.53 400.91 546.55 400.91C547.56 400.91 548.57 400.90 549.58 400.87C550.58 400.83 551.59 400.78 552.58 400.70C553.58 400.61 554.57 400.50 555.56 400.36C556.55 400.21 557.53 400.03 558.50 399.83C559.48 399.62 560.45 399.38 561.41 399.12C562.38 398.85 563.34 398.56 564.29 398.24C565.24 397.92 566.19 397.57 567.13 397.21C568.07 396.84 569.00 396.45 569.93 396.04C570.86 395.63 571.78 395.19 572.69 394.74C573.61 394.29 574.52 393.82 575.42 393.33C576.33 392.85 577.22 392.34 578.11 391.83C579.00 391.31 579.89 390.78 580.76 390.24C581.64 389.70 582.51 389.14 583.38 388.58C584.24 388.02 585.10 387.44 585.95 386.86C586.80 386.29 587.64 385.70 588.48 385.11C589.32 384.51 590.15 383.91 590.97 383.31C591.79 382.70 592.60 382.09 593.41 381.47C594.22 380.85 595.02 380.22 595.81 379.58C596.60 378.94 597.38 378.30 598.16 377.65C598.93 377.00 599.70 376.34 600.45 375.67C601.21 375.00 601.96 374.32 602.70 373.63C603.44 372.95 604.16 372.25 604.88 371.55C605.60 370.84 606.31 370.13 607.01 369.41C607.71 368.68 608.40 367.95 609.08 367.21C609.76 366.46 610.43 365.71 611.09 364.95C611.75 364.19 612.40 363.41 613.05 362.64C613.69 361.86 614.33 361.07 614.96 360.28C615.59 359.49 616.22 358.70 616.84 357.90C617.46 357.10 618.08 356.29 618.70 355.49C619.32 354.68 619.93 353.87 620.55 353.06C621.17 352.25 621.78 351.44 622.40 350.63C623.02 349.82 623.64 349.01 624.26 348.21C624.89 347.40 625.51 346.60 626.15 345.80C626.78 345.00 627.42 344.20 628.06 343.41C628.71 342.62 629.36 341.84 630.02 341.06C630.69 340.28 631.36 339.51 632.04 338.75C632.72 337.99 633.41 337.23 634.12 336.49C634.83 335.75 635.54 335.01 636.28 334.29C637.01 333.57 637.76 332.86 638.52 332.17C639.29 331.48 640.06 330.78 640.86 330.14C641.66 329.49 642.48 328.86 643.32 328.30C644.16 327.75 645.02 327.23 645.91 326.81C646.79 326.39 647.70 326.03 648.64 325.79C649.58 325.55 650.55 325.40 651.54 325.38C652.53 325.37 653.58 325.49 654.60 325.70C655.62 325.91 656.67 326.25 657.64 326.65C658.62 327.04 659.57 327.53 660.45 328.06C661.33 328.59 662.15 329.19 662.94 329.83C663.72 330.47 664.45 331.17 665.16 331.89C665.86 332.62 666.52 333.39 667.16 334.18C667.80 334.97 668.40 335.79 668.99 336.62C669.59 337.46 670.15 338.31 670.72 339.17C671.29 340.02 671.84 340.89 672.39 341.74C672.95 342.60 673.50 343.45 674.05 344.30C674.60 345.15 675.15 346.00 675.70 346.85C676.24 347.70 676.79 348.54 677.32 349.40C677.86 350.26 678.38 351.12 678.91 351.99C679.43 352.86 679.94 353.75 680.45 354.63C680.96 355.51 681.47 356.40 681.98 357.28C682.48 358.17 682.99 359.05 683.50 359.93C684.01 360.82 684.52 361.70 685.03 362.57C685.55 363.44 686.34 364.72 686.60 365.16L686.60 401.20L401.60 401.20Z" fill="#0000ff" stroke="none" clip-path="url(#cpf)"/>
<path d="M402.00 287.80V514.60M681.80 287.80V514.60" fill="none" stroke="#464646" stroke-width="1.5"/>
<path d="M401.25 288.40H682.55M401.25 514.00H682.55" fill="none" stroke="#464646" stroke-width="1.2"/>
<text x="402.00" y="526.35" font-size="9.7" text-anchor="middle" >0</text>
<line x1="429.30" y1="514.00" x2="429.30" y2="511.70" stroke="#464646" stroke-width="1.3"/>
<line x1="429.30" y1="288.40" x2="429.30" y2="290.70" stroke="#464646" stroke-width="1.3"/>
<line x1="456.60" y1="514.00" x2="456.60" y2="509.80" stroke="#464646" stroke-width="1.3"/>
<line x1="456.60" y1="288.40" x2="456.60" y2="292.60" stroke="#464646" stroke-width="1.3"/>
<text x="456.60" y="526.35" font-size="9.7" text-anchor="middle" >1000</text>
<line x1="483.90" y1="514.00" x2="483.90" y2="511.70" stroke="#464646" stroke-width="1.3"/>
<line x1="483.90" y1="288.40" x2="483.90" y2="290.70" stroke="#464646" stroke-width="1.3"/>
<line x1="511.20" y1="514.00" x2="511.20" y2="509.80" stroke="#464646" stroke-width="1.3"/>
<line x1="511.20" y1="288.40" x2="511.20" y2="292.60" stroke="#464646" stroke-width="1.3"/>
<text x="511.20" y="526.35" font-size="9.7" text-anchor="middle" >2000</text>
<line x1="538.50" y1="514.00" x2="538.50" y2="511.70" stroke="#464646" stroke-width="1.3"/>
<line x1="538.50" y1="288.40" x2="538.50" y2="290.70" stroke="#464646" stroke-width="1.3"/>
<line x1="565.80" y1="514.00" x2="565.80" y2="509.80" stroke="#464646" stroke-width="1.3"/>
<line x1="565.80" y1="288.40" x2="565.80" y2="292.60" stroke="#464646" stroke-width="1.3"/>
<text x="565.80" y="526.35" font-size="9.7" text-anchor="middle" >3000</text>
<line x1="593.10" y1="514.00" x2="593.10" y2="511.70" stroke="#464646" stroke-width="1.3"/>
<line x1="593.10" y1="288.40" x2="593.10" y2="290.70" stroke="#464646" stroke-width="1.3"/>
<line x1="620.40" y1="514.00" x2="620.40" y2="509.80" stroke="#464646" stroke-width="1.3"/>
<line x1="620.40" y1="288.40" x2="620.40" y2="292.60" stroke="#464646" stroke-width="1.3"/>
<text x="620.40" y="526.35" font-size="9.7" text-anchor="middle" >4000</text>
<line x1="647.70" y1="514.00" x2="647.70" y2="511.70" stroke="#464646" stroke-width="1.3"/>
<line x1="647.70" y1="288.40" x2="647.70" y2="290.70" stroke="#464646" stroke-width="1.3"/>
<line x1="675.00" y1="514.00" x2="675.00" y2="509.80" stroke="#464646" stroke-width="1.3"/>
<line x1="675.00" y1="288.40" x2="675.00" y2="292.60" stroke="#464646" stroke-width="1.3"/>
<text x="675.00" y="526.35" font-size="9.7" text-anchor="middle" >5000</text>
<text x="397.10" y="517.25" font-size="9.7" text-anchor="end" >-0.05</text>
<line x1="402.00" y1="502.72" x2="404.30" y2="502.72" stroke="#464646" stroke-width="1.05"/>
<line x1="681.80" y1="502.72" x2="679.50" y2="502.72" stroke="#464646" stroke-width="1.05"/>
<line x1="402.00" y1="491.44" x2="406.20" y2="491.44" stroke="#464646" stroke-width="1.05"/>
<line x1="681.80" y1="491.44" x2="677.60" y2="491.44" stroke="#464646" stroke-width="1.05"/>
<text x="397.10" y="494.69" font-size="9.7" text-anchor="end" >-0.04</text>
<line x1="402.00" y1="480.16" x2="404.30" y2="480.16" stroke="#464646" stroke-width="1.05"/>
<line x1="681.80" y1="480.16" x2="679.50" y2="480.16" stroke="#464646" stroke-width="1.05"/>
<line x1="402.00" y1="468.88" x2="406.20" y2="468.88" stroke="#464646" stroke-width="1.05"/>
<line x1="681.80" y1="468.88" x2="677.60" y2="468.88" stroke="#464646" stroke-width="1.05"/>
<text x="397.10" y="472.13" font-size="9.7" text-anchor="end" >-0.03</text>
<line x1="402.00" y1="457.60" x2="404.30" y2="457.60" stroke="#464646" stroke-width="1.05"/>
<line x1="681.80" y1="457.60" x2="679.50" y2="457.60" stroke="#464646" stroke-width="1.05"/>
<line x1="402.00" y1="446.32" x2="406.20" y2="446.32" stroke="#464646" stroke-width="1.05"/>
<line x1="681.80" y1="446.32" x2="677.60" y2="446.32" stroke="#464646" stroke-width="1.05"/>
<text x="397.10" y="449.57" font-size="9.7" text-anchor="end" >-0.02</text>
<line x1="402.00" y1="435.04" x2="404.30" y2="435.04" stroke="#464646" stroke-width="1.05"/>
<line x1="681.80" y1="435.04" x2="679.50" y2="435.04" stroke="#464646" stroke-width="1.05"/>
<line x1="402.00" y1="423.76" x2="406.20" y2="423.76" stroke="#464646" stroke-width="1.05"/>
<line x1="681.80" y1="423.76" x2="677.60" y2="423.76" stroke="#464646" stroke-width="1.05"/>
<text x="397.10" y="427.01" font-size="9.7" text-anchor="end" >-0.01</text>
<line x1="402.00" y1="412.48" x2="404.30" y2="412.48" stroke="#464646" stroke-width="1.05"/>
<line x1="681.80" y1="412.48" x2="679.50" y2="412.48" stroke="#464646" stroke-width="1.05"/>
<line x1="402.00" y1="401.20" x2="406.20" y2="401.20" stroke="#464646" stroke-width="1.05"/>
<line x1="681.80" y1="401.20" x2="677.60" y2="401.20" stroke="#464646" stroke-width="1.05"/>
<text x="397.10" y="404.45" font-size="9.7" text-anchor="end" >0.00</text>
<line x1="402.00" y1="389.92" x2="404.30" y2="389.92" stroke="#464646" stroke-width="1.05"/>
<line x1="681.80" y1="389.92" x2="679.50" y2="389.92" stroke="#464646" stroke-width="1.05"/>
<line x1="402.00" y1="378.64" x2="406.20" y2="378.64" stroke="#464646" stroke-width="1.05"/>
<line x1="681.80" y1="378.64" x2="677.60" y2="378.64" stroke="#464646" stroke-width="1.05"/>
<text x="397.10" y="381.89" font-size="9.7" text-anchor="end" >0.01</text>
<line x1="402.00" y1="367.36" x2="404.30" y2="367.36" stroke="#464646" stroke-width="1.05"/>
<line x1="681.80" y1="367.36" x2="679.50" y2="367.36" stroke="#464646" stroke-width="1.05"/>
<line x1="402.00" y1="356.08" x2="406.20" y2="356.08" stroke="#464646" stroke-width="1.05"/>
<line x1="681.80" y1="356.08" x2="677.60" y2="356.08" stroke="#464646" stroke-width="1.05"/>
<text x="397.10" y="359.33" font-size="9.7" text-anchor="end" >0.02</text>
<line x1="402.00" y1="344.80" x2="404.30" y2="344.80" stroke="#464646" stroke-width="1.05"/>
<line x1="681.80" y1="344.80" x2="679.50" y2="344.80" stroke="#464646" stroke-width="1.05"/>
<line x1="402.00" y1="333.52" x2="406.20" y2="333.52" stroke="#464646" stroke-width="1.05"/>
<line x1="681.80" y1="333.52" x2="677.60" y2="333.52" stroke="#464646" stroke-width="1.05"/>
<text x="397.10" y="336.77" font-size="9.7" text-anchor="end" >0.03</text>
<line x1="402.00" y1="322.24" x2="404.30" y2="322.24" stroke="#464646" stroke-width="1.05"/>
<line x1="681.80" y1="322.24" x2="679.50" y2="322.24" stroke="#464646" stroke-width="1.05"/>
<line x1="402.00" y1="310.96" x2="406.20" y2="310.96" stroke="#464646" stroke-width="1.05"/>
<line x1="681.80" y1="310.96" x2="677.60" y2="310.96" stroke="#464646" stroke-width="1.05"/>
<text x="397.10" y="314.21" font-size="9.7" text-anchor="end" >0.04</text>
<line x1="402.00" y1="299.68" x2="404.30" y2="299.68" stroke="#464646" stroke-width="1.05"/>
<line x1="681.80" y1="299.68" x2="679.50" y2="299.68" stroke="#464646" stroke-width="1.05"/>
<text x="397.10" y="291.65" font-size="9.7" text-anchor="end" >0.05</text>
<path d="M401.60 401.00C401.68 400.38 401.88 397.88 402.10 397.30C402.32 396.72 402.65 396.85 402.90 397.50C403.15 398.15 403.37 399.50 403.60 401.20C403.83 402.90 403.67 406.43 404.30 407.70C404.93 408.97 406.45 408.33 407.40 408.81C408.35 409.28 409.04 410.22 409.98 410.54C410.91 410.85 411.98 410.69 412.99 410.68C414.00 410.67 415.09 410.41 416.05 410.49C417.00 410.56 417.94 410.73 418.75 411.12C419.55 411.51 420.24 412.15 420.88 412.85C421.52 413.55 422.03 414.43 422.59 415.32C423.14 416.21 423.63 417.22 424.21 418.19C424.79 419.15 425.39 420.20 426.08 421.09C426.77 421.98 427.57 422.93 428.37 423.53C429.17 424.13 430.03 424.54 430.87 424.68C431.71 424.81 432.58 424.62 433.42 424.33C434.26 424.04 435.12 423.50 435.94 422.95C436.76 422.39 437.58 421.69 438.36 421.02C439.15 420.35 439.91 419.63 440.66 418.93C441.42 418.23 442.15 417.50 442.89 416.79C443.63 416.09 444.36 415.38 445.11 414.69C445.87 414.01 446.62 413.34 447.40 412.71C448.19 412.09 448.99 411.49 449.82 410.93C450.65 410.37 451.51 409.85 452.37 409.34C453.24 408.83 454.13 408.36 455.03 407.88C455.92 407.41 456.83 406.95 457.73 406.48C458.63 406.01 459.54 405.55 460.44 405.07C461.34 404.59 462.23 404.10 463.12 403.61C464.02 403.12 464.91 402.62 465.81 402.14C466.70 401.66 467.60 401.18 468.50 400.73C469.41 400.28 470.32 399.84 471.25 399.44C472.17 399.05 473.11 398.67 474.06 398.34C475.01 398.01 475.98 397.72 476.95 397.47C477.93 397.22 478.92 397.02 479.92 396.85C480.92 396.69 481.93 396.57 482.94 396.49C483.95 396.41 484.97 396.38 485.98 396.39C487.00 396.40 488.01 396.46 489.03 396.56C490.04 396.66 491.05 396.81 492.06 397.00C493.06 397.19 494.06 397.43 495.06 397.67C496.05 397.92 497.05 398.21 498.04 398.48C499.03 398.75 500.02 399.04 501.01 399.31C502.00 399.57 502.99 399.84 503.98 400.06C504.97 400.28 505.96 400.47 506.96 400.62C507.95 400.77 508.95 400.87 509.95 400.95C510.94 401.03 511.95 401.07 512.95 401.09C513.95 401.11 514.96 401.10 515.96 401.08C516.97 401.06 517.98 401.02 518.99 400.98C520.00 400.93 521.02 400.87 522.03 400.82C523.05 400.76 524.06 400.70 525.08 400.65C526.10 400.60 527.12 400.55 528.14 400.52C529.16 400.49 530.18 400.47 531.21 400.47C532.23 400.47 533.26 400.49 534.28 400.52C535.31 400.54 536.33 400.58 537.36 400.62C538.38 400.66 539.41 400.71 540.43 400.75C541.45 400.79 542.48 400.83 543.50 400.85C544.51 400.88 545.53 400.91 546.55 400.91C547.56 400.91 548.57 400.90 549.58 400.87C550.58 400.83 551.59 400.78 552.58 400.70C553.58 400.61 554.57 400.50 555.56 400.36C556.55 400.21 557.53 400.03 558.50 399.83C559.48 399.62 560.45 399.38 561.41 399.12C562.38 398.85 563.34 398.56 564.29 398.24C565.24 397.92 566.19 397.57 567.13 397.21C568.07 396.84 569.00 396.45 569.93 396.04C570.86 395.63 571.78 395.19 572.69 394.74C573.61 394.29 574.52 393.82 575.42 393.33C576.33 392.85 577.22 392.34 578.11 391.83C579.00 391.31 579.89 390.78 580.76 390.24C581.64 389.70 582.51 389.14 583.38 388.58C584.24 388.02 585.10 387.44 585.95 386.86C586.80 386.29 587.64 385.70 588.48 385.11C589.32 384.51 590.15 383.91 590.97 383.31C591.79 382.70 592.60 382.09 593.41 381.47C594.22 380.85 595.02 380.22 595.81 379.58C596.60 378.94 597.38 378.30 598.16 377.65C598.93 377.00 599.70 376.34 600.45 375.67C601.21 375.00 601.96 374.32 602.70 373.63C603.44 372.95 604.16 372.25 604.88 371.55C605.60 370.84 606.31 370.13 607.01 369.41C607.71 368.68 608.40 367.95 609.08 367.21C609.76 366.46 610.43 365.71 611.09 364.95C611.75 364.19 612.40 363.41 613.05 362.64C613.69 361.86 614.33 361.07 614.96 360.28C615.59 359.49 616.22 358.70 616.84 357.90C617.46 357.10 618.08 356.29 618.70 355.49C619.32 354.68 619.93 353.87 620.55 353.06C621.17 352.25 621.78 351.44 622.40 350.63C623.02 349.82 623.64 349.01 624.26 348.21C624.89 347.40 625.51 346.60 626.15 345.80C626.78 345.00 627.42 344.20 628.06 343.41C628.71 342.62 629.36 341.84 630.02 341.06C630.69 340.28 631.36 339.51 632.04 338.75C632.72 337.99 633.41 337.23 634.12 336.49C634.83 335.75 635.54 335.01 636.28 334.29C637.01 333.57 637.76 332.86 638.52 332.17C639.29 331.48 640.06 330.78 640.86 330.14C641.66 329.49 642.48 328.86 643.32 328.30C644.16 327.75 645.02 327.23 645.91 326.81C646.79 326.39 647.70 326.03 648.64 325.79C649.58 325.55 650.55 325.40 651.54 325.38C652.53 325.37 653.58 325.49 654.60 325.70C655.62 325.91 656.67 326.25 657.64 326.65C658.62 327.04 659.57 327.53 660.45 328.06C661.33 328.59 662.15 329.19 662.94 329.83C663.72 330.47 664.45 331.17 665.16 331.89C665.86 332.62 666.52 333.39 667.16 334.18C667.80 334.97 668.40 335.79 668.99 336.62C669.59 337.46 670.15 338.31 670.72 339.17C671.29 340.02 671.84 340.89 672.39 341.74C672.95 342.60 673.50 343.45 674.05 344.30C674.60 345.15 675.15 346.00 675.70 346.85C676.24 347.70 676.79 348.54 677.32 349.40C677.86 350.26 678.38 351.12 678.91 351.99C679.43 352.86 679.94 353.75 680.45 354.63C680.96 355.51 681.47 356.40 681.98 357.28C682.48 358.17 682.99 359.05 683.50 359.93C684.01 360.82 684.52 361.70 685.03 362.57C685.55 363.44 686.34 364.72 686.60 365.16L686.60 401.20L401.60 401.20Z" fill="#0000ff" fill-opacity="0.82" stroke="none" clip-path="url(#cpf)"/>
<line x1="402.00" y1="401.20" x2="681.80" y2="401.20" stroke="#050510" stroke-width="1.15"/>
<text x="542.00" y="544.30" font-size="11.9" text-anchor="middle" >Frequency (Hz)</text>
<text transform="translate(372.30 400.90) rotate(-90)" font-size="11.6" text-anchor="middle">Error</text>
<text x="354.60" y="277.70" font-size="13.6" text-anchor="start" >(f)</text>
<text x="563.70" y="313.90" font-size="13.7" text-anchor="start" >Max Error: 3.34%</text>
<clipPath id="cpg"><rect x="401.55" y="557.20" width="280.40" height="225.80"/></clipPath>
<path d="M402.00 660.70C402.30 661.48 403.35 663.83 403.80 665.40C404.25 666.97 404.45 668.92 404.70 670.10C404.95 671.28 405.04 671.50 405.31 672.49C405.57 673.48 405.85 674.93 406.28 676.04C406.70 677.14 407.19 678.42 407.84 679.12C408.49 679.82 409.42 680.19 410.18 680.22C410.94 680.25 411.75 679.82 412.41 679.30C413.07 678.78 413.61 677.95 414.13 677.09C414.66 676.22 415.09 675.14 415.54 674.11C415.99 673.07 416.38 671.91 416.81 670.87C417.25 669.84 417.66 668.81 418.14 667.89C418.62 666.97 419.12 666.13 419.70 665.37C420.29 664.62 420.91 663.94 421.66 663.36C422.40 662.77 423.26 662.27 424.18 661.87C425.10 661.47 426.17 661.16 427.18 660.95C428.19 660.75 429.24 660.70 430.26 660.63C431.28 660.56 432.30 660.60 433.31 660.53C434.32 660.45 435.32 660.34 436.32 660.18C437.32 660.02 438.31 659.79 439.31 659.56C440.30 659.34 441.29 659.06 442.29 658.83C443.28 658.60 444.28 658.34 445.28 658.19C446.28 658.03 447.28 657.89 448.29 657.89C449.31 657.88 450.33 657.98 451.35 658.14C452.38 658.30 453.41 658.60 454.42 658.84C455.43 659.08 456.44 659.35 457.42 659.59C458.41 659.84 459.39 660.07 460.36 660.31C461.33 660.54 462.28 660.77 463.24 661.01C464.20 661.24 465.15 661.48 466.10 661.72C467.06 661.97 468.01 662.22 468.97 662.49C469.93 662.76 470.89 663.04 471.86 663.35C472.83 663.65 473.81 663.97 474.79 664.31C475.78 664.65 476.78 665.02 477.79 665.38C478.79 665.73 479.80 666.11 480.81 666.45C481.82 666.80 482.84 667.14 483.85 667.44C484.86 667.74 485.87 668.02 486.87 668.24C487.87 668.46 488.87 668.65 489.85 668.76C490.83 668.86 491.81 668.92 492.76 668.89C493.72 668.85 494.66 668.74 495.59 668.54C496.51 668.35 497.42 668.06 498.33 667.72C499.23 667.39 500.12 666.97 501.02 666.53C501.92 666.09 502.80 665.58 503.70 665.06C504.60 664.55 505.50 663.98 506.41 663.43C507.32 662.87 508.23 662.29 509.16 661.73C510.08 661.17 511.01 660.61 511.95 660.08C512.88 659.55 513.82 659.03 514.77 658.57C515.71 658.11 516.65 657.67 517.60 657.31C518.55 656.95 519.50 656.63 520.44 656.40C521.39 656.18 522.34 656.01 523.28 655.96C524.23 655.90 525.17 655.94 526.11 656.07C527.05 656.20 527.98 656.45 528.90 656.76C529.82 657.07 530.74 657.48 531.63 657.94C532.53 658.39 533.41 658.93 534.27 659.51C535.12 660.08 535.96 660.72 536.77 661.38C537.58 662.04 538.36 662.74 539.12 663.46C539.88 664.18 540.61 664.93 541.33 665.70C542.04 666.46 542.73 667.26 543.41 668.05C544.09 668.85 544.75 669.67 545.41 670.48C546.07 671.30 546.71 672.13 547.35 672.96C547.99 673.78 548.62 674.61 549.26 675.43C549.90 676.25 550.53 677.07 551.18 677.87C551.82 678.67 552.47 679.47 553.13 680.24C553.79 681.01 554.45 681.77 555.14 682.50C555.83 683.23 556.52 683.94 557.25 684.61C557.97 685.28 558.71 685.93 559.48 686.54C560.25 687.14 561.04 687.71 561.86 688.24C562.68 688.77 563.54 689.25 564.42 689.70C565.29 690.15 566.20 690.56 567.12 690.95C568.04 691.34 568.99 691.69 569.95 692.02C570.91 692.35 571.89 692.66 572.88 692.95C573.86 693.24 574.87 693.51 575.87 693.77C576.88 694.04 577.89 694.28 578.91 694.53C579.92 694.78 580.94 695.01 581.96 695.26C582.98 695.50 583.99 695.74 585.01 695.98C586.02 696.22 587.03 696.47 588.04 696.70C589.05 696.94 590.06 697.17 591.06 697.39C592.07 697.62 593.07 697.84 594.08 698.04C595.08 698.25 596.09 698.45 597.09 698.63C598.09 698.82 599.09 698.99 600.09 699.15C601.09 699.31 602.09 699.45 603.09 699.57C604.09 699.70 605.09 699.81 606.09 699.89C607.09 699.97 608.09 700.04 609.09 700.08C610.09 700.12 611.09 700.14 612.09 700.13C613.09 700.12 614.09 700.09 615.09 700.02C616.09 699.96 617.09 699.86 618.09 699.74C619.09 699.62 620.09 699.47 621.08 699.30C622.08 699.12 623.08 698.92 624.07 698.69C625.05 698.46 626.04 698.21 627.02 697.93C628.00 697.65 628.98 697.35 629.94 697.02C630.91 696.69 631.87 696.34 632.82 695.96C633.78 695.59 634.72 695.19 635.65 694.77C636.59 694.35 637.51 693.91 638.42 693.45C639.34 692.99 640.24 692.51 641.14 692.02C642.04 691.53 642.93 691.03 643.82 690.52C644.71 690.00 645.59 689.48 646.47 688.96C647.35 688.44 648.23 687.91 649.10 687.38C649.98 686.86 650.86 686.33 651.74 685.82C652.62 685.31 653.50 684.79 654.39 684.30C655.28 683.80 656.16 683.31 657.06 682.84C657.96 682.38 658.86 681.92 659.77 681.49C660.69 681.06 661.61 680.65 662.54 680.27C663.47 679.89 664.41 679.53 665.37 679.21C666.33 678.88 667.29 678.59 668.28 678.33C669.26 678.08 670.26 677.86 671.28 677.68C672.29 677.50 673.32 677.36 674.36 677.24C675.39 677.12 676.44 677.04 677.47 676.98C678.51 676.91 679.56 676.87 680.58 676.83C681.61 676.79 682.64 676.77 683.64 676.75C684.64 676.73 686.10 676.71 686.60 676.70L686.60 670.10L402.00 670.10Z" fill="#0000ff" stroke="none" clip-path="url(#cpg)"/>
<path d="M402.00 556.60V783.60M681.80 556.60V783.60" fill="none" stroke="#464646" stroke-width="1.5"/>
<path d="M401.25 557.20H682.55M401.25 783.00H682.55" fill="none" stroke="#464646" stroke-width="1.2"/>
<text x="402.00" y="795.05" font-size="9.7" text-anchor="middle" >0</text>
<line x1="429.30" y1="783.00" x2="429.30" y2="780.70" stroke="#464646" stroke-width="1.3"/>
<line x1="429.30" y1="557.20" x2="429.30" y2="559.50" stroke="#464646" stroke-width="1.3"/>
<line x1="456.60" y1="783.00" x2="456.60" y2="778.80" stroke="#464646" stroke-width="1.3"/>
<line x1="456.60" y1="557.20" x2="456.60" y2="561.40" stroke="#464646" stroke-width="1.3"/>
<text x="456.60" y="795.05" font-size="9.7" text-anchor="middle" >1000</text>
<line x1="483.90" y1="783.00" x2="483.90" y2="780.70" stroke="#464646" stroke-width="1.3"/>
<line x1="483.90" y1="557.20" x2="483.90" y2="559.50" stroke="#464646" stroke-width="1.3"/>
<line x1="511.20" y1="783.00" x2="511.20" y2="778.80" stroke="#464646" stroke-width="1.3"/>
<line x1="511.20" y1="557.20" x2="511.20" y2="561.40" stroke="#464646" stroke-width="1.3"/>
<text x="511.20" y="795.05" font-size="9.7" text-anchor="middle" >2000</text>
<line x1="538.50" y1="783.00" x2="538.50" y2="780.70" stroke="#464646" stroke-width="1.3"/>
<line x1="538.50" y1="557.20" x2="538.50" y2="559.50" stroke="#464646" stroke-width="1.3"/>
<line x1="565.80" y1="783.00" x2="565.80" y2="778.80" stroke="#464646" stroke-width="1.3"/>
<line x1="565.80" y1="557.20" x2="565.80" y2="561.40" stroke="#464646" stroke-width="1.3"/>
<text x="565.80" y="795.05" font-size="9.7" text-anchor="middle" >3000</text>
<line x1="593.10" y1="783.00" x2="593.10" y2="780.70" stroke="#464646" stroke-width="1.3"/>
<line x1="593.10" y1="557.20" x2="593.10" y2="559.50" stroke="#464646" stroke-width="1.3"/>
<line x1="620.40" y1="783.00" x2="620.40" y2="778.80" stroke="#464646" stroke-width="1.3"/>
<line x1="620.40" y1="557.20" x2="620.40" y2="561.40" stroke="#464646" stroke-width="1.3"/>
<text x="620.40" y="795.05" font-size="9.7" text-anchor="middle" >4000</text>
<line x1="647.70" y1="783.00" x2="647.70" y2="780.70" stroke="#464646" stroke-width="1.3"/>
<line x1="647.70" y1="557.20" x2="647.70" y2="559.50" stroke="#464646" stroke-width="1.3"/>
<line x1="675.00" y1="783.00" x2="675.00" y2="778.80" stroke="#464646" stroke-width="1.3"/>
<line x1="675.00" y1="557.20" x2="675.00" y2="561.40" stroke="#464646" stroke-width="1.3"/>
<text x="675.00" y="795.05" font-size="9.7" text-anchor="middle" >5000</text>
<text x="397.10" y="786.25" font-size="9.7" text-anchor="end" >-0.05</text>
<line x1="402.00" y1="771.71" x2="404.30" y2="771.71" stroke="#464646" stroke-width="1.05"/>
<line x1="681.80" y1="771.71" x2="679.50" y2="771.71" stroke="#464646" stroke-width="1.05"/>
<line x1="402.00" y1="760.42" x2="406.20" y2="760.42" stroke="#464646" stroke-width="1.05"/>
<line x1="681.80" y1="760.42" x2="677.60" y2="760.42" stroke="#464646" stroke-width="1.05"/>
<text x="397.10" y="763.67" font-size="9.7" text-anchor="end" >-0.04</text>
<line x1="402.00" y1="749.13" x2="404.30" y2="749.13" stroke="#464646" stroke-width="1.05"/>
<line x1="681.80" y1="749.13" x2="679.50" y2="749.13" stroke="#464646" stroke-width="1.05"/>
<line x1="402.00" y1="737.84" x2="406.20" y2="737.84" stroke="#464646" stroke-width="1.05"/>
<line x1="681.80" y1="737.84" x2="677.60" y2="737.84" stroke="#464646" stroke-width="1.05"/>
<text x="397.10" y="741.09" font-size="9.7" text-anchor="end" >-0.03</text>
<line x1="402.00" y1="726.55" x2="404.30" y2="726.55" stroke="#464646" stroke-width="1.05"/>
<line x1="681.80" y1="726.55" x2="679.50" y2="726.55" stroke="#464646" stroke-width="1.05"/>
<line x1="402.00" y1="715.26" x2="406.20" y2="715.26" stroke="#464646" stroke-width="1.05"/>
<line x1="681.80" y1="715.26" x2="677.60" y2="715.26" stroke="#464646" stroke-width="1.05"/>
<text x="397.10" y="718.51" font-size="9.7" text-anchor="end" >-0.02</text>
<line x1="402.00" y1="703.97" x2="404.30" y2="703.97" stroke="#464646" stroke-width="1.05"/>
<line x1="681.80" y1="703.97" x2="679.50" y2="703.97" stroke="#464646" stroke-width="1.05"/>
<line x1="402.00" y1="692.68" x2="406.20" y2="692.68" stroke="#464646" stroke-width="1.05"/>
<line x1="681.80" y1="692.68" x2="677.60" y2="692.68" stroke="#464646" stroke-width="1.05"/>
<text x="397.10" y="695.93" font-size="9.7" text-anchor="end" >-0.01</text>
<line x1="402.00" y1="681.39" x2="404.30" y2="681.39" stroke="#464646" stroke-width="1.05"/>
<line x1="681.80" y1="681.39" x2="679.50" y2="681.39" stroke="#464646" stroke-width="1.05"/>
<line x1="402.00" y1="670.10" x2="406.20" y2="670.10" stroke="#464646" stroke-width="1.05"/>
<line x1="681.80" y1="670.10" x2="677.60" y2="670.10" stroke="#464646" stroke-width="1.05"/>
<text x="397.10" y="673.35" font-size="9.7" text-anchor="end" >0.00</text>
<line x1="402.00" y1="658.81" x2="404.30" y2="658.81" stroke="#464646" stroke-width="1.05"/>
<line x1="681.80" y1="658.81" x2="679.50" y2="658.81" stroke="#464646" stroke-width="1.05"/>
<line x1="402.00" y1="647.52" x2="406.20" y2="647.52" stroke="#464646" stroke-width="1.05"/>
<line x1="681.80" y1="647.52" x2="677.60" y2="647.52" stroke="#464646" stroke-width="1.05"/>
<text x="397.10" y="650.77" font-size="9.7" text-anchor="end" >0.01</text>
<line x1="402.00" y1="636.23" x2="404.30" y2="636.23" stroke="#464646" stroke-width="1.05"/>
<line x1="681.80" y1="636.23" x2="679.50" y2="636.23" stroke="#464646" stroke-width="1.05"/>
<line x1="402.00" y1="624.94" x2="406.20" y2="624.94" stroke="#464646" stroke-width="1.05"/>
<line x1="681.80" y1="624.94" x2="677.60" y2="624.94" stroke="#464646" stroke-width="1.05"/>
<text x="397.10" y="628.19" font-size="9.7" text-anchor="end" >0.02</text>
<line x1="402.00" y1="613.65" x2="404.30" y2="613.65" stroke="#464646" stroke-width="1.05"/>
<line x1="681.80" y1="613.65" x2="679.50" y2="613.65" stroke="#464646" stroke-width="1.05"/>
<line x1="402.00" y1="602.36" x2="406.20" y2="602.36" stroke="#464646" stroke-width="1.05"/>
<line x1="681.80" y1="602.36" x2="677.60" y2="602.36" stroke="#464646" stroke-width="1.05"/>
<text x="397.10" y="605.61" font-size="9.7" text-anchor="end" >0.03</text>
<line x1="402.00" y1="591.07" x2="404.30" y2="591.07" stroke="#464646" stroke-width="1.05"/>
<line x1="681.80" y1="591.07" x2="679.50" y2="591.07" stroke="#464646" stroke-width="1.05"/>
<line x1="402.00" y1="579.78" x2="406.20" y2="579.78" stroke="#464646" stroke-width="1.05"/>
<line x1="681.80" y1="579.78" x2="677.60" y2="579.78" stroke="#464646" stroke-width="1.05"/>
<text x="397.10" y="583.03" font-size="9.7" text-anchor="end" >0.04</text>
<line x1="402.00" y1="568.49" x2="404.30" y2="568.49" stroke="#464646" stroke-width="1.05"/>
<line x1="681.80" y1="568.49" x2="679.50" y2="568.49" stroke="#464646" stroke-width="1.05"/>
<text x="397.10" y="560.45" font-size="9.7" text-anchor="end" >0.05</text>
<path d="M402.00 660.70C402.30 661.48 403.35 663.83 403.80 665.40C404.25 666.97 404.45 668.92 404.70 670.10C404.95 671.28 405.04 671.50 405.31 672.49C405.57 673.48 405.85 674.93 406.28 676.04C406.70 677.14 407.19 678.42 407.84 679.12C408.49 679.82 409.42 680.19 410.18 680.22C410.94 680.25 411.75 679.82 412.41 679.30C413.07 678.78 413.61 677.95 414.13 677.09C414.66 676.22 415.09 675.14 415.54 674.11C415.99 673.07 416.38 671.91 416.81 670.87C417.25 669.84 417.66 668.81 418.14 667.89C418.62 666.97 419.12 666.13 419.70 665.37C420.29 664.62 420.91 663.94 421.66 663.36C422.40 662.77 423.26 662.27 424.18 661.87C425.10 661.47 426.17 661.16 427.18 660.95C428.19 660.75 429.24 660.70 430.26 660.63C431.28 660.56 432.30 660.60 433.31 660.53C434.32 660.45 435.32 660.34 436.32 660.18C437.32 660.02 438.31 659.79 439.31 659.56C440.30 659.34 441.29 659.06 442.29 658.83C443.28 658.60 444.28 658.34 445.28 658.19C446.28 658.03 447.28 657.89 448.29 657.89C449.31 657.88 450.33 657.98 451.35 658.14C452.38 658.30 453.41 658.60 454.42 658.84C455.43 659.08 456.44 659.35 457.42 659.59C458.41 659.84 459.39 660.07 460.36 660.31C461.33 660.54 462.28 660.77 463.24 661.01C464.20 661.24 465.15 661.48 466.10 661.72C467.06 661.97 468.01 662.22 468.97 662.49C469.93 662.76 470.89 663.04 471.86 663.35C472.83 663.65 473.81 663.97 474.79 664.31C475.78 664.65 476.78 665.02 477.79 665.38C478.79 665.73 479.80 666.11 480.81 666.45C481.82 666.80 482.84 667.14 483.85 667.44C484.86 667.74 485.87 668.02 486.87 668.24C487.87 668.46 488.87 668.65 489.85 668.76C490.83 668.86 491.81 668.92 492.76 668.89C493.72 668.85 494.66 668.74 495.59 668.54C496.51 668.35 497.42 668.06 498.33 667.72C499.23 667.39 500.12 666.97 501.02 666.53C501.92 666.09 502.80 665.58 503.70 665.06C504.60 664.55 505.50 663.98 506.41 663.43C507.32 662.87 508.23 662.29 509.16 661.73C510.08 661.17 511.01 660.61 511.95 660.08C512.88 659.55 513.82 659.03 514.77 658.57C515.71 658.11 516.65 657.67 517.60 657.31C518.55 656.95 519.50 656.63 520.44 656.40C521.39 656.18 522.34 656.01 523.28 655.96C524.23 655.90 525.17 655.94 526.11 656.07C527.05 656.20 527.98 656.45 528.90 656.76C529.82 657.07 530.74 657.48 531.63 657.94C532.53 658.39 533.41 658.93 534.27 659.51C535.12 660.08 535.96 660.72 536.77 661.38C537.58 662.04 538.36 662.74 539.12 663.46C539.88 664.18 540.61 664.93 541.33 665.70C542.04 666.46 542.73 667.26 543.41 668.05C544.09 668.85 544.75 669.67 545.41 670.48C546.07 671.30 546.71 672.13 547.35 672.96C547.99 673.78 548.62 674.61 549.26 675.43C549.90 676.25 550.53 677.07 551.18 677.87C551.82 678.67 552.47 679.47 553.13 680.24C553.79 681.01 554.45 681.77 555.14 682.50C555.83 683.23 556.52 683.94 557.25 684.61C557.97 685.28 558.71 685.93 559.48 686.54C560.25 687.14 561.04 687.71 561.86 688.24C562.68 688.77 563.54 689.25 564.42 689.70C565.29 690.15 566.20 690.56 567.12 690.95C568.04 691.34 568.99 691.69 569.95 692.02C570.91 692.35 571.89 692.66 572.88 692.95C573.86 693.24 574.87 693.51 575.87 693.77C576.88 694.04 577.89 694.28 578.91 694.53C579.92 694.78 580.94 695.01 581.96 695.26C582.98 695.50 583.99 695.74 585.01 695.98C586.02 696.22 587.03 696.47 588.04 696.70C589.05 696.94 590.06 697.17 591.06 697.39C592.07 697.62 593.07 697.84 594.08 698.04C595.08 698.25 596.09 698.45 597.09 698.63C598.09 698.82 599.09 698.99 600.09 699.15C601.09 699.31 602.09 699.45 603.09 699.57C604.09 699.70 605.09 699.81 606.09 699.89C607.09 699.97 608.09 700.04 609.09 700.08C610.09 700.12 611.09 700.14 612.09 700.13C613.09 700.12 614.09 700.09 615.09 700.02C616.09 699.96 617.09 699.86 618.09 699.74C619.09 699.62 620.09 699.47 621.08 699.30C622.08 699.12 623.08 698.92 624.07 698.69C625.05 698.46 626.04 698.21 627.02 697.93C628.00 697.65 628.98 697.35 629.94 697.02C630.91 696.69 631.87 696.34 632.82 695.96C633.78 695.59 634.72 695.19 635.65 694.77C636.59 694.35 637.51 693.91 638.42 693.45C639.34 692.99 640.24 692.51 641.14 692.02C642.04 691.53 642.93 691.03 643.82 690.52C644.71 690.00 645.59 689.48 646.47 688.96C647.35 688.44 648.23 687.91 649.10 687.38C649.98 686.86 650.86 686.33 651.74 685.82C652.62 685.31 653.50 684.79 654.39 684.30C655.28 683.80 656.16 683.31 657.06 682.84C657.96 682.38 658.86 681.92 659.77 681.49C660.69 681.06 661.61 680.65 662.54 680.27C663.47 679.89 664.41 679.53 665.37 679.21C666.33 678.88 667.29 678.59 668.28 678.33C669.26 678.08 670.26 677.86 671.28 677.68C672.29 677.50 673.32 677.36 674.36 677.24C675.39 677.12 676.44 677.04 677.47 676.98C678.51 676.91 679.56 676.87 680.58 676.83C681.61 676.79 682.64 676.77 683.64 676.75C684.64 676.73 686.10 676.71 686.60 676.70L686.60 670.10L402.00 670.10Z" fill="#0000ff" fill-opacity="0.82" stroke="none" clip-path="url(#cpg)"/>
<line x1="402.00" y1="670.10" x2="681.80" y2="670.10" stroke="#050510" stroke-width="1.15"/>
<text x="542.00" y="813.10" font-size="11.9" text-anchor="middle" >Frequency (Hz)</text>
<text transform="translate(372.30 669.80) rotate(-90)" font-size="11.6" text-anchor="middle">Error</text>
<text x="354.60" y="548.90" font-size="13.6" text-anchor="start" >(g)</text>
<text x="563.70" y="585.10" font-size="13.7" text-anchor="start" >Max Error: 1.31%</text>
<clipPath id="cph"><rect x="401.55" y="825.70" width="280.40" height="225.90"/></clipPath>
<path d="M401.90 938.50C402.02 940.83 402.35 948.42 402.60 952.50C402.85 956.58 403.03 960.58 403.40 963.00C403.77 965.42 404.40 966.85 404.82 967.02C405.25 967.20 405.62 965.04 405.95 964.06C406.28 963.09 406.55 962.13 406.80 961.17C407.05 960.22 407.26 959.28 407.45 958.33C407.65 957.38 407.80 956.44 407.96 955.49C408.11 954.54 408.24 953.59 408.38 952.63C408.52 951.67 408.65 950.70 408.79 949.71C408.94 948.72 409.08 947.72 409.25 946.70C409.42 945.67 409.60 944.63 409.82 943.56C410.03 942.49 410.26 941.35 410.56 940.27C410.85 939.19 411.16 937.99 411.59 937.06C412.02 936.12 412.52 935.13 413.12 934.66C413.73 934.19 414.55 933.98 415.24 934.24C415.92 934.50 416.65 935.49 417.25 936.22C417.85 936.96 418.35 937.81 418.83 938.66C419.30 939.52 419.70 940.43 420.11 941.35C420.52 942.26 420.88 943.22 421.28 944.17C421.68 945.11 422.06 946.08 422.52 947.02C422.97 947.97 423.43 948.92 424.00 949.81C424.56 950.71 425.19 951.65 425.89 952.42C426.59 953.19 427.39 953.97 428.22 954.44C429.06 954.91 429.97 955.24 430.89 955.24C431.81 955.24 432.82 954.85 433.72 954.45C434.62 954.05 435.50 953.43 436.29 952.83C437.09 952.23 437.81 951.54 438.50 950.82C439.20 950.11 439.83 949.33 440.45 948.53C441.07 947.74 441.65 946.90 442.23 946.06C442.82 945.22 443.37 944.35 443.95 943.51C444.53 942.66 445.09 941.80 445.70 940.97C446.31 940.15 446.92 939.33 447.58 938.56C448.24 937.79 448.95 937.06 449.66 936.34C450.38 935.62 451.13 934.94 451.87 934.25C452.60 933.56 453.36 932.88 454.08 932.18C454.79 931.48 455.50 930.78 456.16 930.04C456.83 929.30 457.45 928.53 458.06 927.74C458.67 926.96 459.24 926.14 459.82 925.32C460.40 924.49 460.96 923.65 461.54 922.80C462.12 921.95 462.70 921.08 463.30 920.24C463.91 919.39 464.52 918.53 465.16 917.72C465.80 916.90 466.46 916.09 467.15 915.33C467.84 914.58 468.56 913.85 469.32 913.18C470.08 912.52 470.87 911.89 471.71 911.35C472.55 910.81 473.43 910.33 474.36 909.94C475.28 909.55 476.28 909.24 477.27 909.03C478.26 908.81 479.30 908.68 480.31 908.66C481.32 908.63 482.35 908.69 483.33 908.87C484.30 909.04 485.26 909.32 486.15 909.70C487.05 910.08 487.89 910.57 488.69 911.14C489.49 911.70 490.24 912.37 490.96 913.08C491.68 913.79 492.36 914.58 493.01 915.39C493.66 916.20 494.28 917.07 494.88 917.94C495.49 918.81 496.06 919.72 496.63 920.61C497.19 921.49 497.74 922.38 498.28 923.26C498.82 924.13 499.35 924.99 499.88 925.84C500.40 926.70 500.92 927.54 501.44 928.39C501.95 929.24 502.46 930.08 502.97 930.93C503.48 931.78 503.99 932.63 504.50 933.49C505.01 934.35 505.52 935.21 506.04 936.08C506.55 936.94 507.07 937.81 507.59 938.68C508.11 939.54 508.64 940.41 509.17 941.28C509.71 942.14 510.24 943.00 510.79 943.86C511.34 944.72 511.89 945.57 512.46 946.41C513.03 947.26 513.60 948.10 514.19 948.92C514.78 949.75 515.37 950.57 515.99 951.37C516.60 952.18 517.22 952.97 517.86 953.75C518.51 954.53 519.16 955.29 519.83 956.04C520.51 956.78 521.19 957.51 521.90 958.22C522.61 958.93 523.34 959.62 524.08 960.29C524.83 960.96 525.60 961.60 526.39 962.23C527.17 962.85 527.99 963.44 528.81 964.02C529.64 964.60 530.49 965.15 531.34 965.70C532.20 966.26 533.06 966.79 533.93 967.33C534.79 967.87 535.66 968.40 536.52 968.95C537.38 969.49 538.24 970.04 539.08 970.60C539.92 971.17 540.76 971.75 541.56 972.36C542.37 972.96 543.16 973.59 543.92 974.25C544.68 974.91 545.41 975.61 546.12 976.33C546.83 977.04 547.52 977.79 548.19 978.55C548.86 979.32 549.50 980.11 550.14 980.91C550.77 981.71 551.38 982.53 551.99 983.35C552.60 984.18 553.19 985.02 553.77 985.86C554.36 986.70 554.93 987.55 555.51 988.40C556.08 989.24 556.65 990.09 557.21 990.93C557.78 991.77 558.35 992.61 558.92 993.44C559.50 994.26 560.07 995.08 560.66 995.89C561.26 996.69 561.86 997.49 562.48 998.27C563.10 999.05 563.73 999.81 564.40 1000.56C565.06 1001.30 565.75 1002.03 566.46 1002.73C567.18 1003.44 567.92 1004.12 568.71 1004.78C569.49 1005.44 570.32 1006.08 571.17 1006.68C572.03 1007.27 572.94 1007.86 573.86 1008.36C574.78 1008.86 575.74 1009.33 576.70 1009.69C577.65 1010.04 578.64 1010.33 579.60 1010.48C580.57 1010.63 581.54 1010.68 582.49 1010.57C583.44 1010.47 584.37 1010.21 585.28 1009.85C586.19 1009.50 587.08 1009.00 587.94 1008.45C588.79 1007.89 589.62 1007.22 590.41 1006.53C591.19 1005.83 591.95 1005.05 592.66 1004.27C593.36 1003.49 594.03 1002.67 594.65 1001.85C595.27 1001.03 595.84 1000.20 596.40 999.36C596.95 998.52 597.46 997.67 597.96 996.81C598.46 995.95 598.94 995.08 599.41 994.21C599.89 993.34 600.35 992.46 600.81 991.58C601.27 990.70 601.73 989.81 602.19 988.92C602.64 988.03 603.10 987.13 603.55 986.23C604.00 985.33 604.45 984.43 604.90 983.52C605.34 982.62 605.78 981.71 606.23 980.79C606.67 979.88 607.11 978.96 607.54 978.05C607.98 977.13 608.42 976.21 608.85 975.29C609.28 974.36 609.71 973.44 610.14 972.51C610.57 971.59 611.00 970.66 611.43 969.73C611.86 968.80 612.28 967.87 612.71 966.94C613.13 966.01 613.55 965.08 613.97 964.15C614.40 963.22 614.82 962.29 615.24 961.36C615.66 960.43 616.08 959.50 616.49 958.57C616.91 957.64 617.33 956.71 617.75 955.79C618.17 954.86 618.58 953.93 619.00 953.01C619.42 952.08 619.83 951.16 620.25 950.24C620.66 949.32 621.08 948.40 621.50 947.49C621.91 946.57 622.33 945.66 622.75 944.75C623.16 943.84 623.58 942.93 624.00 942.03C624.42 941.13 624.84 940.23 625.25 939.33C625.67 938.44 626.09 937.55 626.52 936.66C626.94 935.77 627.36 934.89 627.79 934.01C628.23 933.12 628.66 932.24 629.11 931.36C629.55 930.48 630.01 929.60 630.47 928.72C630.94 927.83 631.41 926.95 631.91 926.06C632.40 925.18 632.90 924.29 633.43 923.40C633.95 922.50 634.49 921.61 635.05 920.70C635.62 919.80 636.19 918.88 636.80 917.98C637.41 917.07 638.03 916.13 638.69 915.26C639.35 914.38 640.03 913.51 640.74 912.73C641.46 911.95 642.21 911.20 642.99 910.58C643.78 909.95 644.60 909.42 645.46 908.99C646.31 908.55 647.20 908.22 648.10 907.97C649.01 907.72 649.95 907.57 650.89 907.48C651.83 907.40 652.80 907.41 653.76 907.48C654.73 907.55 655.71 907.71 656.68 907.92C657.65 908.13 658.62 908.41 659.58 908.74C660.54 909.08 661.50 909.47 662.43 909.91C663.36 910.36 664.28 910.85 665.17 911.39C666.06 911.92 666.93 912.50 667.76 913.11C668.59 913.72 669.38 914.38 670.15 915.05C670.92 915.72 671.65 916.43 672.36 917.15C673.08 917.87 673.77 918.62 674.45 919.37C675.13 920.13 675.78 920.90 676.44 921.68C677.10 922.45 677.74 923.24 678.39 924.02C679.04 924.80 679.68 925.58 680.33 926.36C680.99 927.13 681.64 927.90 682.32 928.65C683.00 929.39 683.69 930.13 684.40 930.85C685.11 931.56 686.24 932.57 686.61 932.92L686.61 938.80L401.90 938.80Z" fill="#0000ff" stroke="none" clip-path="url(#cph)"/>
<path d="M402.00 825.10V1052.20M681.80 825.10V1052.20" fill="none" stroke="#464646" stroke-width="1.5"/>
<path d="M401.25 825.70H682.55M401.25 1051.60H682.55" fill="none" stroke="#464646" stroke-width="1.2"/>
<text x="402.00" y="1063.95" font-size="9.7" text-anchor="middle" >0</text>
<line x1="429.30" y1="1051.60" x2="429.30" y2="1049.30" stroke="#464646" stroke-width="1.3"/>
<line x1="429.30" y1="825.70" x2="429.30" y2="828.00" stroke="#464646" stroke-width="1.3"/>
<line x1="456.60" y1="1051.60" x2="456.60" y2="1047.40" stroke="#464646" stroke-width="1.3"/>
<line x1="456.60" y1="825.70" x2="456.60" y2="829.90" stroke="#464646" stroke-width="1.3"/>
<text x="456.60" y="1063.95" font-size="9.7" text-anchor="middle" >1000</text>
<line x1="483.90" y1="1051.60" x2="483.90" y2="1049.30" stroke="#464646" stroke-width="1.3"/>
<line x1="483.90" y1="825.70" x2="483.90" y2="828.00" stroke="#464646" stroke-width="1.3"/>
<line x1="511.20" y1="1051.60" x2="511.20" y2="1047.40" stroke="#464646" stroke-width="1.3"/>
<line x1="511.20" y1="825.70" x2="511.20" y2="829.90" stroke="#464646" stroke-width="1.3"/>
<text x="511.20" y="1063.95" font-size="9.7" text-anchor="middle" >2000</text>
<line x1="538.50" y1="1051.60" x2="538.50" y2="1049.30" stroke="#464646" stroke-width="1.3"/>
<line x1="538.50" y1="825.70" x2="538.50" y2="828.00" stroke="#464646" stroke-width="1.3"/>
<line x1="565.80" y1="1051.60" x2="565.80" y2="1047.40" stroke="#464646" stroke-width="1.3"/>
<line x1="565.80" y1="825.70" x2="565.80" y2="829.90" stroke="#464646" stroke-width="1.3"/>
<text x="565.80" y="1063.95" font-size="9.7" text-anchor="middle" >3000</text>
<line x1="593.10" y1="1051.60" x2="593.10" y2="1049.30" stroke="#464646" stroke-width="1.3"/>
<line x1="593.10" y1="825.70" x2="593.10" y2="828.00" stroke="#464646" stroke-width="1.3"/>
<line x1="620.40" y1="1051.60" x2="620.40" y2="1047.40" stroke="#464646" stroke-width="1.3"/>
<line x1="620.40" y1="825.70" x2="620.40" y2="829.90" stroke="#464646" stroke-width="1.3"/>
<text x="620.40" y="1063.95" font-size="9.7" text-anchor="middle" >4000</text>
<line x1="647.70" y1="1051.60" x2="647.70" y2="1049.30" stroke="#464646" stroke-width="1.3"/>
<line x1="647.70" y1="825.70" x2="647.70" y2="828.00" stroke="#464646" stroke-width="1.3"/>
<line x1="675.00" y1="1051.60" x2="675.00" y2="1047.40" stroke="#464646" stroke-width="1.3"/>
<line x1="675.00" y1="825.70" x2="675.00" y2="829.90" stroke="#464646" stroke-width="1.3"/>
<text x="675.00" y="1063.95" font-size="9.7" text-anchor="middle" >5000</text>
<text x="397.10" y="1054.85" font-size="9.7" text-anchor="end" >-0.05</text>
<line x1="402.00" y1="1040.30" x2="404.30" y2="1040.30" stroke="#464646" stroke-width="1.05"/>
<line x1="681.80" y1="1040.30" x2="679.50" y2="1040.30" stroke="#464646" stroke-width="1.05"/>
<line x1="402.00" y1="1029.01" x2="406.20" y2="1029.01" stroke="#464646" stroke-width="1.05"/>
<line x1="681.80" y1="1029.01" x2="677.60" y2="1029.01" stroke="#464646" stroke-width="1.05"/>
<text x="397.10" y="1032.26" font-size="9.7" text-anchor="end" >-0.04</text>
<line x1="402.00" y1="1017.71" x2="404.30" y2="1017.71" stroke="#464646" stroke-width="1.05"/>
<line x1="681.80" y1="1017.71" x2="679.50" y2="1017.71" stroke="#464646" stroke-width="1.05"/>
<line x1="402.00" y1="1006.42" x2="406.20" y2="1006.42" stroke="#464646" stroke-width="1.05"/>
<line x1="681.80" y1="1006.42" x2="677.60" y2="1006.42" stroke="#464646" stroke-width="1.05"/>
<text x="397.10" y="1009.67" font-size="9.7" text-anchor="end" >-0.03</text>
<line x1="402.00" y1="995.12" x2="404.30" y2="995.12" stroke="#464646" stroke-width="1.05"/>
<line x1="681.80" y1="995.12" x2="679.50" y2="995.12" stroke="#464646" stroke-width="1.05"/>
<line x1="402.00" y1="983.83" x2="406.20" y2="983.83" stroke="#464646" stroke-width="1.05"/>
<line x1="681.80" y1="983.83" x2="677.60" y2="983.83" stroke="#464646" stroke-width="1.05"/>
<text x="397.10" y="987.08" font-size="9.7" text-anchor="end" >-0.02</text>
<line x1="402.00" y1="972.53" x2="404.30" y2="972.53" stroke="#464646" stroke-width="1.05"/>
<line x1="681.80" y1="972.53" x2="679.50" y2="972.53" stroke="#464646" stroke-width="1.05"/>
<line x1="402.00" y1="961.24" x2="406.20" y2="961.24" stroke="#464646" stroke-width="1.05"/>
<line x1="681.80" y1="961.24" x2="677.60" y2="961.24" stroke="#464646" stroke-width="1.05"/>
<text x="397.10" y="964.49" font-size="9.7" text-anchor="end" >-0.01</text>
<line x1="402.00" y1="949.94" x2="404.30" y2="949.94" stroke="#464646" stroke-width="1.05"/>
<line x1="681.80" y1="949.94" x2="679.50" y2="949.94" stroke="#464646" stroke-width="1.05"/>
<line x1="402.00" y1="938.65" x2="406.20" y2="938.65" stroke="#464646" stroke-width="1.05"/>
<line x1="681.80" y1="938.65" x2="677.60" y2="938.65" stroke="#464646" stroke-width="1.05"/>
<text x="397.10" y="941.90" font-size="9.7" text-anchor="end" >0.00</text>
<line x1="402.00" y1="927.36" x2="404.30" y2="927.36" stroke="#464646" stroke-width="1.05"/>
<line x1="681.80" y1="927.36" x2="679.50" y2="927.36" stroke="#464646" stroke-width="1.05"/>
<line x1="402.00" y1="916.06" x2="406.20" y2="916.06" stroke="#464646" stroke-width="1.05"/>
<line x1="681.80" y1="916.06" x2="677.60" y2="916.06" stroke="#464646" stroke-width="1.05"/>
<text x="397.10" y="919.31" font-size="9.7" text-anchor="end" >0.01</text>
<line x1="402.00" y1="904.76" x2="404.30" y2="904.76" stroke="#464646" stroke-width="1.05"/>
<line x1="681.80" y1="904.76" x2="679.50" y2="904.76" stroke="#464646" stroke-width="1.05"/>
<line x1="402.00" y1="893.47" x2="406.20" y2="893.47" stroke="#464646" stroke-width="1.05"/>
<line x1="681.80" y1="893.47" x2="677.60" y2="893.47" stroke="#464646" stroke-width="1.05"/>
<text x="397.10" y="896.72" font-size="9.7" text-anchor="end" >0.02</text>
<line x1="402.00" y1="882.17" x2="404.30" y2="882.17" stroke="#464646" stroke-width="1.05"/>
<line x1="681.80" y1="882.17" x2="679.50" y2="882.17" stroke="#464646" stroke-width="1.05"/>
<line x1="402.00" y1="870.88" x2="406.20" y2="870.88" stroke="#464646" stroke-width="1.05"/>
<line x1="681.80" y1="870.88" x2="677.60" y2="870.88" stroke="#464646" stroke-width="1.05"/>
<text x="397.10" y="874.13" font-size="9.7" text-anchor="end" >0.03</text>
<line x1="402.00" y1="859.59" x2="404.30" y2="859.59" stroke="#464646" stroke-width="1.05"/>
<line x1="681.80" y1="859.59" x2="679.50" y2="859.59" stroke="#464646" stroke-width="1.05"/>
<line x1="402.00" y1="848.29" x2="406.20" y2="848.29" stroke="#464646" stroke-width="1.05"/>
<line x1="681.80" y1="848.29" x2="677.60" y2="848.29" stroke="#464646" stroke-width="1.05"/>
<text x="397.10" y="851.54" font-size="9.7" text-anchor="end" >0.04</text>
<line x1="402.00" y1="837.00" x2="404.30" y2="837.00" stroke="#464646" stroke-width="1.05"/>
<line x1="681.80" y1="837.00" x2="679.50" y2="837.00" stroke="#464646" stroke-width="1.05"/>
<text x="397.10" y="828.95" font-size="9.7" text-anchor="end" >0.05</text>
<path d="M401.90 938.50C402.02 940.83 402.35 948.42 402.60 952.50C402.85 956.58 403.03 960.58 403.40 963.00C403.77 965.42 404.40 966.85 404.82 967.02C405.25 967.20 405.62 965.04 405.95 964.06C406.28 963.09 406.55 962.13 406.80 961.17C407.05 960.22 407.26 959.28 407.45 958.33C407.65 957.38 407.80 956.44 407.96 955.49C408.11 954.54 408.24 953.59 408.38 952.63C408.52 951.67 408.65 950.70 408.79 949.71C408.94 948.72 409.08 947.72 409.25 946.70C409.42 945.67 409.60 944.63 409.82 943.56C410.03 942.49 410.26 941.35 410.56 940.27C410.85 939.19 411.16 937.99 411.59 937.06C412.02 936.12 412.52 935.13 413.12 934.66C413.73 934.19 414.55 933.98 415.24 934.24C415.92 934.50 416.65 935.49 417.25 936.22C417.85 936.96 418.35 937.81 418.83 938.66C419.30 939.52 419.70 940.43 420.11 941.35C420.52 942.26 420.88 943.22 421.28 944.17C421.68 945.11 422.06 946.08 422.52 947.02C422.97 947.97 423.43 948.92 424.00 949.81C424.56 950.71 425.19 951.65 425.89 952.42C426.59 953.19 427.39 953.97 428.22 954.44C429.06 954.91 429.97 955.24 430.89 955.24C431.81 955.24 432.82 954.85 433.72 954.45C434.62 954.05 435.50 953.43 436.29 952.83C437.09 952.23 437.81 951.54 438.50 950.82C439.20 950.11 439.83 949.33 440.45 948.53C441.07 947.74 441.65 946.90 442.23 946.06C442.82 945.22 443.37 944.35 443.95 943.51C444.53 942.66 445.09 941.80 445.70 940.97C446.31 940.15 446.92 939.33 447.58 938.56C448.24 937.79 448.95 937.06 449.66 936.34C450.38 935.62 451.13 934.94 451.87 934.25C452.60 933.56 453.36 932.88 454.08 932.18C454.79 931.48 455.50 930.78 456.16 930.04C456.83 929.30 457.45 928.53 458.06 927.74C458.67 926.96 459.24 926.14 459.82 925.32C460.40 924.49 460.96 923.65 461.54 922.80C462.12 921.95 462.70 921.08 463.30 920.24C463.91 919.39 464.52 918.53 465.16 917.72C465.80 916.90 466.46 916.09 467.15 915.33C467.84 914.58 468.56 913.85 469.32 913.18C470.08 912.52 470.87 911.89 471.71 911.35C472.55 910.81 473.43 910.33 474.36 909.94C475.28 909.55 476.28 909.24 477.27 909.03C478.26 908.81 479.30 908.68 480.31 908.66C481.32 908.63 482.35 908.69 483.33 908.87C484.30 909.04 485.26 909.32 486.15 909.70C487.05 910.08 487.89 910.57 488.69 911.14C489.49 911.70 490.24 912.37 490.96 913.08C491.68 913.79 492.36 914.58 493.01 915.39C493.66 916.20 494.28 917.07 494.88 917.94C495.49 918.81 496.06 919.72 496.63 920.61C497.19 921.49 497.74 922.38 498.28 923.26C498.82 924.13 499.35 924.99 499.88 925.84C500.40 926.70 500.92 927.54 501.44 928.39C501.95 929.24 502.46 930.08 502.97 930.93C503.48 931.78 503.99 932.63 504.50 933.49C505.01 934.35 505.52 935.21 506.04 936.08C506.55 936.94 507.07 937.81 507.59 938.68C508.11 939.54 508.64 940.41 509.17 941.28C509.71 942.14 510.24 943.00 510.79 943.86C511.34 944.72 511.89 945.57 512.46 946.41C513.03 947.26 513.60 948.10 514.19 948.92C514.78 949.75 515.37 950.57 515.99 951.37C516.60 952.18 517.22 952.97 517.86 953.75C518.51 954.53 519.16 955.29 519.83 956.04C520.51 956.78 521.19 957.51 521.90 958.22C522.61 958.93 523.34 959.62 524.08 960.29C524.83 960.96 525.60 961.60 526.39 962.23C527.17 962.85 527.99 963.44 528.81 964.02C529.64 964.60 530.49 965.15 531.34 965.70C532.20 966.26 533.06 966.79 533.93 967.33C534.79 967.87 535.66 968.40 536.52 968.95C537.38 969.49 538.24 970.04 539.08 970.60C539.92 971.17 540.76 971.75 541.56 972.36C542.37 972.96 543.16 973.59 543.92 974.25C544.68 974.91 545.41 975.61 546.12 976.33C546.83 977.04 547.52 977.79 548.19 978.55C548.86 979.32 549.50 980.11 550.14 980.91C550.77 981.71 551.38 982.53 551.99 983.35C552.60 984.18 553.19 985.02 553.77 985.86C554.36 986.70 554.93 987.55 555.51 988.40C556.08 989.24 556.65 990.09 557.21 990.93C557.78 991.77 558.35 992.61 558.92 993.44C559.50 994.26 560.07 995.08 560.66 995.89C561.26 996.69 561.86 997.49 562.48 998.27C563.10 999.05 563.73 999.81 564.40 1000.56C565.06 1001.30 565.75 1002.03 566.46 1002.73C567.18 1003.44 567.92 1004.12 568.71 1004.78C569.49 1005.44 570.32 1006.08 571.17 1006.68C572.03 1007.27 572.94 1007.86 573.86 1008.36C574.78 1008.86 575.74 1009.33 576.70 1009.69C577.65 1010.04 578.64 1010.33 579.60 1010.48C580.57 1010.63 581.54 1010.68 582.49 1010.57C583.44 1010.47 584.37 1010.21 585.28 1009.85C586.19 1009.50 587.08 1009.00 587.94 1008.45C588.79 1007.89 589.62 1007.22 590.41 1006.53C591.19 1005.83 591.95 1005.05 592.66 1004.27C593.36 1003.49 594.03 1002.67 594.65 1001.85C595.27 1001.03 595.84 1000.20 596.40 999.36C596.95 998.52 597.46 997.67 597.96 996.81C598.46 995.95 598.94 995.08 599.41 994.21C599.89 993.34 600.35 992.46 600.81 991.58C601.27 990.70 601.73 989.81 602.19 988.92C602.64 988.03 603.10 987.13 603.55 986.23C604.00 985.33 604.45 984.43 604.90 983.52C605.34 982.62 605.78 981.71 606.23 980.79C606.67 979.88 607.11 978.96 607.54 978.05C607.98 977.13 608.42 976.21 608.85 975.29C609.28 974.36 609.71 973.44 610.14 972.51C610.57 971.59 611.00 970.66 611.43 969.73C611.86 968.80 612.28 967.87 612.71 966.94C613.13 966.01 613.55 965.08 613.97 964.15C614.40 963.22 614.82 962.29 615.24 961.36C615.66 960.43 616.08 959.50 616.49 958.57C616.91 957.64 617.33 956.71 617.75 955.79C618.17 954.86 618.58 953.93 619.00 953.01C619.42 952.08 619.83 951.16 620.25 950.24C620.66 949.32 621.08 948.40 621.50 947.49C621.91 946.57 622.33 945.66 622.75 944.75C623.16 943.84 623.58 942.93 624.00 942.03C624.42 941.13 624.84 940.23 625.25 939.33C625.67 938.44 626.09 937.55 626.52 936.66C626.94 935.77 627.36 934.89 627.79 934.01C628.23 933.12 628.66 932.24 629.11 931.36C629.55 930.48 630.01 929.60 630.47 928.72C630.94 927.83 631.41 926.95 631.91 926.06C632.40 925.18 632.90 924.29 633.43 923.40C633.95 922.50 634.49 921.61 635.05 920.70C635.62 919.80 636.19 918.88 636.80 917.98C637.41 917.07 638.03 916.13 638.69 915.26C639.35 914.38 640.03 913.51 640.74 912.73C641.46 911.95 642.21 911.20 642.99 910.58C643.78 909.95 644.60 909.42 645.46 908.99C646.31 908.55 647.20 908.22 648.10 907.97C649.01 907.72 649.95 907.57 650.89 907.48C651.83 907.40 652.80 907.41 653.76 907.48C654.73 907.55 655.71 907.71 656.68 907.92C657.65 908.13 658.62 908.41 659.58 908.74C660.54 909.08 661.50 909.47 662.43 909.91C663.36 910.36 664.28 910.85 665.17 911.39C666.06 911.92 666.93 912.50 667.76 913.11C668.59 913.72 669.38 914.38 670.15 915.05C670.92 915.72 671.65 916.43 672.36 917.15C673.08 917.87 673.77 918.62 674.45 919.37C675.13 920.13 675.78 920.90 676.44 921.68C677.10 922.45 677.74 923.24 678.39 924.02C679.04 924.80 679.68 925.58 680.33 926.36C680.99 927.13 681.64 927.90 682.32 928.65C683.00 929.39 683.69 930.13 684.40 930.85C685.11 931.56 686.24 932.57 686.61 932.92L686.61 938.80L401.90 938.80Z" fill="#0000ff" fill-opacity="0.82" stroke="none" clip-path="url(#cph)"/>
<line x1="402.00" y1="938.80" x2="681.80" y2="938.80" stroke="#050510" stroke-width="1.15"/>
<text x="542.00" y="1082.10" font-size="11.9" text-anchor="middle" >Frequency (Hz)</text>
<text transform="translate(372.30 938.35) rotate(-90)" font-size="11.6" text-anchor="middle">Error</text>
<text x="354.60" y="816.00" font-size="13.6" text-anchor="start" >(h)</text>
<text x="563.70" y="854.50" font-size="13.7" text-anchor="start" >Max Error: 3.17%</text></g>
</svg>
</body></html>
